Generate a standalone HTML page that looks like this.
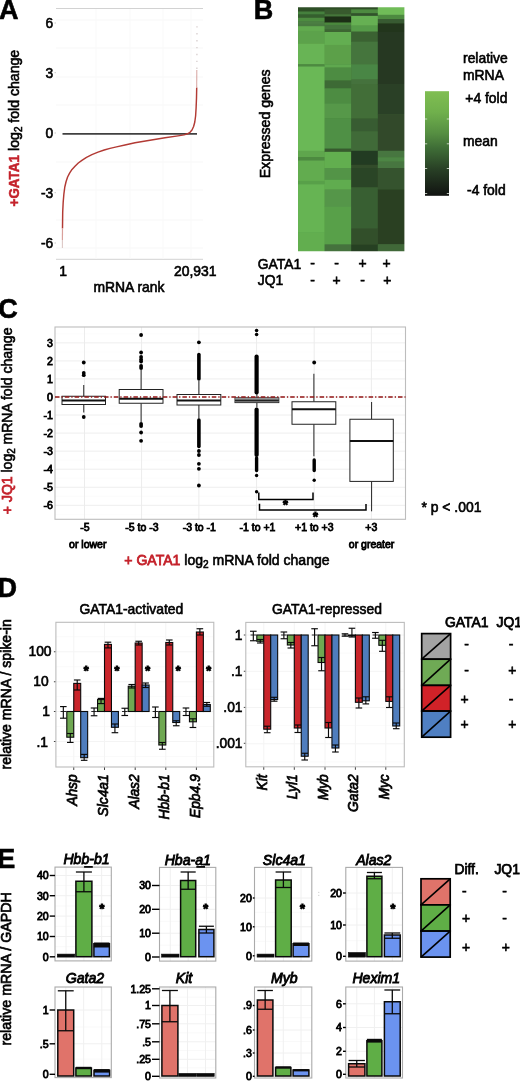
<!DOCTYPE html>
<html lang="en">
<head>
<meta charset="utf-8">
<title>Figure</title>
<style>
html,body{margin:0;padding:0;background:#fff;}
body{width:520px;height:1081px;overflow:hidden;}
svg{display:block;font-family:'Liberation Sans', Arial, Helvetica, sans-serif;filter:blur(0.45px);}
svg text{font-family:'Liberation Sans', Arial, Helvetica, sans-serif;}
</style>
</head>
<body>
<svg width="520" height="1081" viewBox="0 0 520 1081" role="img" aria-label="Figure panels A to E">
<rect x="0" y="0" width="520" height="1081" fill="#ffffff"/>
<g id="panelA">
<text x="-1.00" y="18.50" font-size="27" font-weight="bold" fill="#000" stroke="#000" stroke-width="0.6">A</text>
<line x1="56.00" y1="8.50" x2="203.00" y2="8.50" stroke="#d2d2d2" stroke-width="1"/>
<line x1="56.00" y1="259.30" x2="203.00" y2="259.30" stroke="#d2d2d2" stroke-width="1"/>
<line x1="56.00" y1="20.00" x2="203.00" y2="20.00" stroke="#f7f7f7" stroke-width="1"/>
<line x1="56.00" y1="48.00" x2="203.00" y2="48.00" stroke="#f7f7f7" stroke-width="1"/>
<line x1="56.00" y1="77.00" x2="203.00" y2="77.00" stroke="#f7f7f7" stroke-width="1"/>
<line x1="56.00" y1="105.00" x2="203.00" y2="105.00" stroke="#f7f7f7" stroke-width="1"/>
<line x1="56.00" y1="162.00" x2="203.00" y2="162.00" stroke="#f7f7f7" stroke-width="1"/>
<line x1="56.00" y1="190.00" x2="203.00" y2="190.00" stroke="#f7f7f7" stroke-width="1"/>
<line x1="56.00" y1="220.00" x2="203.00" y2="220.00" stroke="#f7f7f7" stroke-width="1"/>
<line x1="56.00" y1="248.00" x2="203.00" y2="248.00" stroke="#f7f7f7" stroke-width="1"/>
<line x1="96.00" y1="9.00" x2="96.00" y2="259.00" stroke="#f9f9f9" stroke-width="1"/>
<line x1="130.00" y1="9.00" x2="130.00" y2="259.00" stroke="#f9f9f9" stroke-width="1"/>
<line x1="163.00" y1="9.00" x2="163.00" y2="259.00" stroke="#f9f9f9" stroke-width="1"/>
<line x1="191.00" y1="9.00" x2="191.00" y2="259.00" stroke="#f9f9f9" stroke-width="1"/>
<text x="53.20" y="27.90" font-size="13.8" text-anchor="end" fill="#000" stroke="#000" stroke-width="0.6">6</text>
<line x1="54.50" y1="23.00" x2="56.00" y2="23.00" stroke="#bbb" stroke-width="0.8"/>
<text x="53.20" y="77.60" font-size="13.8" text-anchor="end" fill="#000" stroke="#000" stroke-width="0.6">3</text>
<line x1="54.50" y1="72.70" x2="56.00" y2="72.70" stroke="#bbb" stroke-width="0.8"/>
<text x="53.20" y="137.90" font-size="13.8" text-anchor="end" fill="#000" stroke="#000" stroke-width="0.6">0</text>
<line x1="54.50" y1="133.00" x2="56.00" y2="133.00" stroke="#bbb" stroke-width="0.8"/>
<text x="53.20" y="197.60" font-size="13.8" text-anchor="end" fill="#000" stroke="#000" stroke-width="0.6">-3</text>
<line x1="54.50" y1="192.70" x2="56.00" y2="192.70" stroke="#bbb" stroke-width="0.8"/>
<text x="53.20" y="247.90" font-size="13.8" text-anchor="end" fill="#000" stroke="#000" stroke-width="0.6">-6</text>
<line x1="54.50" y1="243.00" x2="56.00" y2="243.00" stroke="#bbb" stroke-width="0.8"/>
<line x1="62.50" y1="133.85" x2="197.00" y2="133.85" stroke="#404040" stroke-width="1.6"/>
<path d="M62.5,228.0 L62.7,212.0 L63.2,202.0 L63.9,193.8 L64.8,187.0 L66.1,181.5 L67.6,177.0 L69.6,173.1 L72.0,169.4 L75.0,166.2 L78.3,163.0 L81.9,160.3 L86.5,157.3 L91.9,154.6 L98.0,152.1 L104.2,150.0 L110.0,148.4 L116.5,146.9 L125.0,145.0 L135.0,142.8 L150.0,140.2 L165.0,137.8 L178.0,135.9 L184.0,134.9 L187.5,133.8 L190.0,132.3 L192.0,130.0 L193.6,126.5 L194.8,122.0 L195.6,116.0 L196.1,108.0 L196.5,98.0 L196.7,88.0" fill="none" stroke="#b23a34" stroke-width="1.45" stroke-linejoin="round" stroke-linecap="round"/>
<line x1="196.7" y1="88" x2="196.8" y2="70" stroke="#d9aaa6" stroke-width="1.1"/>
<line x1="196.9" y1="69" x2="197" y2="26" stroke="#cfc4c4" stroke-width="1.1" stroke-dasharray="1.4 5.5"/>
<line x1="62.5" y1="228" x2="62.4" y2="240" stroke="#d9a09b" stroke-width="1.2"/>
<line x1="62.4" y1="240" x2="62.4" y2="248" stroke="#ddc8c6" stroke-width="1.1"/>
<text x="63.00" y="276.20" font-size="13.9" text-anchor="middle" fill="#000" stroke="#000" stroke-width="0.6">1</text>
<text x="195.30" y="276.20" font-size="13.9" text-anchor="middle" fill="#000" stroke="#000" stroke-width="0.6">20,931</text>
<text x="129.00" y="292.20" font-size="13.9" text-anchor="middle" fill="#000" stroke="#000" stroke-width="0.6">mRNA rank</text>
<text x="0" y="0" font-size="15" font-weight="bold" transform="translate(19 206.4) rotate(-90) scale(0.893 1)" fill="#c4222b" stroke="#c4222b" stroke-width="0.5">+GATA1</text>
<text x="0" y="0" font-size="15" transform="translate(19 150.9) rotate(-90) scale(0.94 1)" fill="#000" stroke="#000" stroke-width="0.6">log<tspan font-size="10.5" dy="2.8">2</tspan><tspan dy="-2.8"> fold change</tspan></text>
</g>
<g id="panelB">
<text x="253.70" y="18.50" font-size="27" font-weight="bold" fill="#000" stroke="#000" stroke-width="0.6">B</text>
<defs><filter id="hb" x="-5%" y="-5%" width="110%" height="110%"><feGaussianBlur stdDeviation="0.4 0.6"/></filter><clipPath id="hc"><rect x="298" y="7.2" width="106.4" height="244"/></clipPath></defs>
<g clip-path="url(#hc)"><g filter="url(#hb)">
<rect x="290.00" y="0.00" width="125.00" height="262.00" fill="#3f6e35" stroke="none" stroke-width="1"/>
<rect x="298.00" y="-0.80" width="26.90" height="12.64" fill="#2f5028" stroke="none" stroke-width="1"/>
<rect x="298.00" y="11.54" width="26.90" height="3.10" fill="#45803e" stroke="none" stroke-width="1"/>
<rect x="298.00" y="14.34" width="26.90" height="3.75" fill="#365e2e" stroke="none" stroke-width="1"/>
<rect x="298.00" y="17.78" width="26.90" height="3.75" fill="#4d8c40" stroke="none" stroke-width="1"/>
<rect x="298.00" y="21.23" width="26.90" height="2.88" fill="#4c7f43" stroke="none" stroke-width="1"/>
<rect x="298.00" y="23.81" width="26.90" height="2.67" fill="#487a3f" stroke="none" stroke-width="1"/>
<rect x="298.00" y="26.18" width="26.90" height="5.04" fill="#62aa4f" stroke="none" stroke-width="1"/>
<rect x="298.00" y="30.92" width="26.90" height="13.22" fill="#5ca24b" stroke="none" stroke-width="1"/>
<rect x="298.00" y="43.84" width="26.90" height="20.76" fill="#68b455" stroke="none" stroke-width="1"/>
<rect x="298.00" y="64.31" width="26.90" height="2.45" fill="#4d8a40" stroke="none" stroke-width="1"/>
<rect x="298.00" y="66.46" width="26.90" height="84.61" fill="#6ab857" stroke="none" stroke-width="1"/>
<rect x="298.00" y="150.77" width="26.90" height="6.76" fill="#5ea64d" stroke="none" stroke-width="1"/>
<rect x="298.00" y="157.23" width="26.90" height="3.53" fill="#4d8a40" stroke="none" stroke-width="1"/>
<rect x="298.00" y="160.46" width="26.90" height="20.76" fill="#62ac4f" stroke="none" stroke-width="1"/>
<rect x="298.00" y="180.92" width="26.90" height="3.53" fill="#59a049" stroke="none" stroke-width="1"/>
<rect x="298.00" y="184.15" width="26.90" height="48.76" fill="#66b453" stroke="none" stroke-width="1"/>
<rect x="298.00" y="232.61" width="26.90" height="26.89" fill="#62ae50" stroke="none" stroke-width="1"/>
<rect x="324.60" y="-0.80" width="26.90" height="10.48" fill="#2e4d26" stroke="none" stroke-width="1"/>
<rect x="324.60" y="9.38" width="26.90" height="5.25" fill="#375a2f" stroke="none" stroke-width="1"/>
<rect x="324.60" y="14.34" width="26.90" height="2.45" fill="#44743a" stroke="none" stroke-width="1"/>
<rect x="324.60" y="16.49" width="26.90" height="6.33" fill="#1c2f17" stroke="none" stroke-width="1"/>
<rect x="324.60" y="22.52" width="26.90" height="2.67" fill="#4b883d" stroke="none" stroke-width="1"/>
<rect x="324.60" y="24.89" width="26.90" height="4.82" fill="#44743c" stroke="none" stroke-width="1"/>
<rect x="324.60" y="29.41" width="26.90" height="2.88" fill="#3c6632" stroke="none" stroke-width="1"/>
<rect x="324.60" y="32.00" width="26.90" height="13.22" fill="#63ae51" stroke="none" stroke-width="1"/>
<rect x="324.60" y="44.92" width="26.90" height="19.68" fill="#5ca04a" stroke="none" stroke-width="1"/>
<rect x="324.60" y="64.31" width="26.90" height="3.53" fill="#5ea84f" stroke="none" stroke-width="1"/>
<rect x="324.60" y="67.54" width="26.90" height="13.22" fill="#4d8c42" stroke="none" stroke-width="1"/>
<rect x="324.60" y="80.46" width="26.90" height="8.15" fill="#3d6a35" stroke="none" stroke-width="1"/>
<rect x="324.60" y="88.31" width="26.90" height="15.38" fill="#4d8c42" stroke="none" stroke-width="1"/>
<rect x="324.60" y="103.38" width="26.90" height="15.38" fill="#56984a" stroke="none" stroke-width="1"/>
<rect x="324.60" y="118.46" width="26.90" height="30.45" fill="#4f9044" stroke="none" stroke-width="1"/>
<rect x="324.60" y="148.61" width="26.90" height="3.53" fill="#375a2f" stroke="none" stroke-width="1"/>
<rect x="324.60" y="151.84" width="26.90" height="16.46" fill="#62ae4f" stroke="none" stroke-width="1"/>
<rect x="324.60" y="168.00" width="26.90" height="12.15" fill="#529446" stroke="none" stroke-width="1"/>
<rect x="324.60" y="179.85" width="26.90" height="9.99" fill="#60ac4f" stroke="none" stroke-width="1"/>
<rect x="324.60" y="189.54" width="26.90" height="17.53" fill="#549648" stroke="none" stroke-width="1"/>
<rect x="324.60" y="206.77" width="26.90" height="37.99" fill="#59a04a" stroke="none" stroke-width="1"/>
<rect x="324.60" y="244.46" width="26.90" height="15.04" fill="#44723c" stroke="none" stroke-width="1"/>
<rect x="351.20" y="-0.80" width="26.90" height="10.48" fill="#2e4d26" stroke="none" stroke-width="1"/>
<rect x="351.20" y="9.38" width="26.90" height="4.18" fill="#4d8a40" stroke="none" stroke-width="1"/>
<rect x="351.20" y="13.26" width="26.90" height="2.88" fill="#31522b" stroke="none" stroke-width="1"/>
<rect x="351.20" y="15.85" width="26.90" height="9.99" fill="#66b053" stroke="none" stroke-width="1"/>
<rect x="351.20" y="25.54" width="26.90" height="6.33" fill="#579c48" stroke="none" stroke-width="1"/>
<rect x="351.20" y="31.57" width="26.90" height="10.42" fill="#3a6233" stroke="none" stroke-width="1"/>
<rect x="351.20" y="41.69" width="26.90" height="22.91" fill="#44743e" stroke="none" stroke-width="1"/>
<rect x="351.20" y="64.31" width="26.90" height="15.38" fill="#4a8644" stroke="none" stroke-width="1"/>
<rect x="351.20" y="79.38" width="26.90" height="4.92" fill="#44723d" stroke="none" stroke-width="1"/>
<rect x="351.20" y="84.00" width="26.90" height="34.76" fill="#426e39" stroke="none" stroke-width="1"/>
<rect x="351.20" y="118.46" width="26.90" height="13.22" fill="#375c30" stroke="none" stroke-width="1"/>
<rect x="351.20" y="131.38" width="26.90" height="19.68" fill="#406a37" stroke="none" stroke-width="1"/>
<rect x="351.20" y="150.77" width="26.90" height="14.30" fill="#233a20" stroke="none" stroke-width="1"/>
<rect x="351.20" y="164.77" width="26.90" height="3.53" fill="#304c2a" stroke="none" stroke-width="1"/>
<rect x="351.20" y="168.00" width="26.90" height="19.68" fill="#2c4526" stroke="none" stroke-width="1"/>
<rect x="351.20" y="187.38" width="26.90" height="41.22" fill="#395e32" stroke="none" stroke-width="1"/>
<rect x="351.20" y="228.31" width="26.90" height="16.45" fill="#32502c" stroke="none" stroke-width="1"/>
<rect x="351.20" y="244.46" width="26.90" height="15.04" fill="#274022" stroke="none" stroke-width="1"/>
<rect x="377.80" y="-0.77" width="34.90" height="15.84" fill="#70bc59" stroke="none" stroke-width="1"/>
<rect x="377.80" y="14.77" width="34.90" height="4.61" fill="#4d8a40" stroke="none" stroke-width="1"/>
<rect x="377.80" y="19.08" width="34.90" height="4.61" fill="#375a31" stroke="none" stroke-width="1"/>
<rect x="377.80" y="23.38" width="34.90" height="8.92" fill="#22351d" stroke="none" stroke-width="1"/>
<rect x="377.80" y="32.00" width="34.90" height="52.30" fill="#263821" stroke="none" stroke-width="1"/>
<rect x="377.80" y="84.00" width="34.90" height="30.45" fill="#2c4025" stroke="none" stroke-width="1"/>
<rect x="377.80" y="114.15" width="34.90" height="36.91" fill="#314a29" stroke="none" stroke-width="1"/>
<rect x="377.80" y="150.77" width="34.90" height="6.76" fill="#477640" stroke="none" stroke-width="1"/>
<rect x="377.80" y="157.23" width="34.90" height="4.61" fill="#4d8644" stroke="none" stroke-width="1"/>
<rect x="377.80" y="161.54" width="34.90" height="6.76" fill="#477640" stroke="none" stroke-width="1"/>
<rect x="377.80" y="168.00" width="34.90" height="21.84" fill="#34522e" stroke="none" stroke-width="1"/>
<rect x="377.80" y="189.54" width="34.90" height="55.01" fill="#2a4024" stroke="none" stroke-width="1"/>
<rect x="377.80" y="244.24" width="34.90" height="15.26" fill="#3f6837" stroke="none" stroke-width="1"/>
</g></g>
<text x="0" y="0" font-size="15" fill="#000" transform="translate(269.60 178.30) rotate(-90) scale(0.94 1)" stroke="#000" stroke-width="0.6">Expressed genes</text>
<text x="257.80" y="268.60" font-size="13.9" fill="#000" stroke="#000" stroke-width="0.6">GATA1</text>
<text x="257.80" y="284.80" font-size="13.9" fill="#000" stroke="#000" stroke-width="0.6">JQ1</text>
<text x="312.50" y="268.20" font-size="13.9" text-anchor="middle" fill="#000" stroke="#000" stroke-width="0.6">-</text>
<text x="312.50" y="284.60" font-size="13.9" text-anchor="middle" fill="#000" stroke="#000" stroke-width="0.6">-</text>
<text x="336.50" y="268.20" font-size="13.9" text-anchor="middle" fill="#000" stroke="#000" stroke-width="0.6">-</text>
<text x="336.50" y="284.60" font-size="13.9" text-anchor="middle" fill="#000" stroke="#000" stroke-width="0.6">+</text>
<text x="362.60" y="268.20" font-size="13.9" text-anchor="middle" fill="#000" stroke="#000" stroke-width="0.6">+</text>
<text x="362.60" y="284.60" font-size="13.9" text-anchor="middle" fill="#000" stroke="#000" stroke-width="0.6">-</text>
<text x="386.60" y="268.20" font-size="13.9" text-anchor="middle" fill="#000" stroke="#000" stroke-width="0.6">+</text>
<text x="387.40" y="284.60" font-size="13.9" text-anchor="middle" fill="#000" stroke="#000" stroke-width="0.6">+</text>
<defs><linearGradient id="cb" x1="0" y1="0" x2="0" y2="1"><stop offset="0" stop-color="#80be52"/><stop offset="0.2" stop-color="#70b04c"/><stop offset="0.4" stop-color="#568f42"/><stop offset="0.55" stop-color="#3e6c36"/><stop offset="0.75" stop-color="#283f25"/><stop offset="1" stop-color="#111311"/></linearGradient></defs>
<rect x="425.00" y="91.20" width="24.00" height="104.60" fill="url(#cb)" stroke="none" stroke-width="1"/>
<line x1="425.00" y1="119.00" x2="427.20" y2="119.00" stroke="#dfe8da" stroke-width="0.8"/>
<line x1="446.80" y1="119.00" x2="449.00" y2="119.00" stroke="#dfe8da" stroke-width="0.8"/>
<line x1="425.00" y1="143.80" x2="427.20" y2="143.80" stroke="#dfe8da" stroke-width="0.8"/>
<line x1="446.80" y1="143.80" x2="449.00" y2="143.80" stroke="#dfe8da" stroke-width="0.8"/>
<line x1="425.00" y1="168.50" x2="427.20" y2="168.50" stroke="#dfe8da" stroke-width="0.8"/>
<line x1="446.80" y1="168.50" x2="449.00" y2="168.50" stroke="#dfe8da" stroke-width="0.8"/>
<line x1="425.00" y1="193.50" x2="427.20" y2="193.50" stroke="#dfe8da" stroke-width="0.8"/>
<line x1="446.80" y1="193.50" x2="449.00" y2="193.50" stroke="#dfe8da" stroke-width="0.8"/>
<text x="463.00" y="63.20" font-size="13.9" fill="#000" stroke="#000" stroke-width="0.6">relative</text>
<text x="463.00" y="79.60" font-size="13.9" fill="#000" stroke="#000" stroke-width="0.6">mRNA</text>
<text x="465.30" y="102.60" font-size="13.9" fill="#000" stroke="#000" stroke-width="0.6">+4 fold</text>
<text x="463.00" y="146.30" font-size="13.9" fill="#000" stroke="#000" stroke-width="0.6">mean</text>
<text x="467.00" y="194.80" font-size="13.9" fill="#000" stroke="#000" stroke-width="0.6">-4 fold</text>
</g>
<g id="panelC">
<text x="-1.70" y="318.20" font-size="27" font-weight="bold" fill="#000" stroke="#000" stroke-width="0.6">C</text>
<line x1="55.00" y1="505.30" x2="405.50" y2="505.30" stroke="#eeeeee" stroke-width="1"/>
<line x1="55.00" y1="487.25" x2="405.50" y2="487.25" stroke="#eeeeee" stroke-width="1"/>
<line x1="55.00" y1="469.20" x2="405.50" y2="469.20" stroke="#eeeeee" stroke-width="1"/>
<line x1="55.00" y1="451.15" x2="405.50" y2="451.15" stroke="#eeeeee" stroke-width="1"/>
<line x1="55.00" y1="433.10" x2="405.50" y2="433.10" stroke="#eeeeee" stroke-width="1"/>
<line x1="55.00" y1="415.05" x2="405.50" y2="415.05" stroke="#eeeeee" stroke-width="1"/>
<line x1="55.00" y1="397.00" x2="405.50" y2="397.00" stroke="#eeeeee" stroke-width="1"/>
<line x1="55.00" y1="378.95" x2="405.50" y2="378.95" stroke="#eeeeee" stroke-width="1"/>
<line x1="55.00" y1="360.90" x2="405.50" y2="360.90" stroke="#eeeeee" stroke-width="1"/>
<line x1="55.00" y1="342.85" x2="405.50" y2="342.85" stroke="#eeeeee" stroke-width="1"/>
<line x1="55.00" y1="514.33" x2="405.50" y2="514.33" stroke="#fbfbfb" stroke-width="0.8"/>
<line x1="55.00" y1="496.27" x2="405.50" y2="496.27" stroke="#fbfbfb" stroke-width="0.8"/>
<line x1="55.00" y1="478.23" x2="405.50" y2="478.23" stroke="#fbfbfb" stroke-width="0.8"/>
<line x1="55.00" y1="460.18" x2="405.50" y2="460.18" stroke="#fbfbfb" stroke-width="0.8"/>
<line x1="55.00" y1="442.12" x2="405.50" y2="442.12" stroke="#fbfbfb" stroke-width="0.8"/>
<line x1="55.00" y1="424.07" x2="405.50" y2="424.07" stroke="#fbfbfb" stroke-width="0.8"/>
<line x1="55.00" y1="406.02" x2="405.50" y2="406.02" stroke="#fbfbfb" stroke-width="0.8"/>
<line x1="55.00" y1="387.98" x2="405.50" y2="387.98" stroke="#fbfbfb" stroke-width="0.8"/>
<line x1="55.00" y1="369.93" x2="405.50" y2="369.93" stroke="#fbfbfb" stroke-width="0.8"/>
<line x1="55.00" y1="351.88" x2="405.50" y2="351.88" stroke="#fbfbfb" stroke-width="0.8"/>
<line x1="55.00" y1="333.82" x2="405.50" y2="333.82" stroke="#fbfbfb" stroke-width="0.8"/>
<line x1="84.50" y1="327.00" x2="84.50" y2="519.30" stroke="#ececec" stroke-width="1"/>
<line x1="141.60" y1="327.00" x2="141.60" y2="519.30" stroke="#ececec" stroke-width="1"/>
<line x1="198.90" y1="327.00" x2="198.90" y2="519.30" stroke="#ececec" stroke-width="1"/>
<line x1="256.60" y1="327.00" x2="256.60" y2="519.30" stroke="#ececec" stroke-width="1"/>
<line x1="314.20" y1="327.00" x2="314.20" y2="519.30" stroke="#ececec" stroke-width="1"/>
<line x1="371.40" y1="327.00" x2="371.40" y2="519.30" stroke="#ececec" stroke-width="1"/>
<rect x="55.00" y="327.00" width="350.50" height="192.30" fill="none" stroke="#bdbdbd" stroke-width="1.1"/>
<text x="53.00" y="509.10" font-size="10.6" text-anchor="end" fill="#000" stroke="#000" stroke-width="0.8">-6</text>
<text x="53.00" y="491.05" font-size="10.6" text-anchor="end" fill="#000" stroke="#000" stroke-width="0.8">-5</text>
<text x="53.00" y="473.00" font-size="10.6" text-anchor="end" fill="#000" stroke="#000" stroke-width="0.8">-4</text>
<text x="53.00" y="454.95" font-size="10.6" text-anchor="end" fill="#000" stroke="#000" stroke-width="0.8">-3</text>
<text x="53.00" y="436.90" font-size="10.6" text-anchor="end" fill="#000" stroke="#000" stroke-width="0.8">-2</text>
<text x="53.00" y="418.85" font-size="10.6" text-anchor="end" fill="#000" stroke="#000" stroke-width="0.8">-1</text>
<text x="53.00" y="400.80" font-size="10.6" text-anchor="end" fill="#000" stroke="#000" stroke-width="0.8">0</text>
<text x="53.00" y="382.75" font-size="10.6" text-anchor="end" fill="#000" stroke="#000" stroke-width="0.8">1</text>
<text x="53.00" y="364.70" font-size="10.6" text-anchor="end" fill="#000" stroke="#000" stroke-width="0.8">2</text>
<text x="53.00" y="346.65" font-size="10.6" text-anchor="end" fill="#000" stroke="#000" stroke-width="0.8">3</text>
<circle cx="83.75" cy="362.50" r="1.9" fill="#000"/>
<circle cx="83.75" cy="373.00" r="1.9" fill="#000"/>
<circle cx="83.75" cy="375.20" r="1.9" fill="#000"/>
<circle cx="83.75" cy="417.00" r="1.9" fill="#000"/>
<circle cx="141.10" cy="335.00" r="1.9" fill="#000"/>
<circle cx="141.10" cy="352.50" r="1.9" fill="#000"/>
<circle cx="141.10" cy="357.00" r="1.9" fill="#000"/>
<circle cx="141.10" cy="359.50" r="1.9" fill="#000"/>
<circle cx="141.10" cy="361.50" r="1.9" fill="#000"/>
<circle cx="141.10" cy="366.00" r="1.9" fill="#000"/>
<circle cx="141.10" cy="368.00" r="1.9" fill="#000"/>
<circle cx="141.10" cy="424.00" r="1.9" fill="#000"/>
<circle cx="141.10" cy="426.00" r="1.9" fill="#000"/>
<circle cx="141.10" cy="432.50" r="1.9" fill="#000"/>
<circle cx="141.10" cy="440.80" r="1.9" fill="#000"/>
<line x1="198.9" y1="354.5" x2="198.9" y2="379" stroke="#000" stroke-width="3.6" stroke-linecap="round"/>
<circle cx="198.90" cy="342.30" r="1.9" fill="#000"/>
<line x1="198.9" y1="420" x2="198.9" y2="446.5" stroke="#000" stroke-width="3.6" stroke-linecap="round"/>
<circle cx="198.90" cy="451.00" r="1.9" fill="#000"/>
<circle cx="198.90" cy="455.00" r="1.9" fill="#000"/>
<circle cx="198.90" cy="463.80" r="1.9" fill="#000"/>
<circle cx="198.90" cy="468.80" r="1.9" fill="#000"/>
<circle cx="198.90" cy="485.50" r="1.9" fill="#000"/>
<circle cx="256.60" cy="330.50" r="1.8" fill="#000"/>
<circle cx="256.60" cy="334.50" r="1.8" fill="#000"/>
<line x1="256.6" y1="356.5" x2="256.6" y2="392.5" stroke="#000" stroke-width="4.2" stroke-linecap="round"/>
<line x1="256.6" y1="409.5" x2="256.6" y2="455" stroke="#000" stroke-width="4.2" stroke-linecap="round"/>
<line x1="256.6" y1="458" x2="256.6" y2="470.5" stroke="#000" stroke-width="3.4" stroke-linecap="round"/>
<circle cx="256.60" cy="475.50" r="1.7" fill="#000"/>
<circle cx="256.60" cy="491.80" r="1.7" fill="#000"/>
<circle cx="314.20" cy="362.50" r="1.9" fill="#000"/>
<line x1="314.2" y1="460" x2="314.2" y2="470.5" stroke="#000" stroke-width="3.4" stroke-linecap="round"/>
<circle cx="314.20" cy="480.30" r="1.7" fill="#000"/>
<line x1="83.75" y1="385.00" x2="83.75" y2="396.25" stroke="#222" stroke-width="1"/>
<line x1="83.75" y1="404.50" x2="83.75" y2="412.50" stroke="#222" stroke-width="1"/>
<rect x="62.00" y="396.25" width="43.50" height="8.25" fill="#fff" stroke="#222" stroke-width="1"/>
<line x1="62.00" y1="400.50" x2="105.50" y2="400.50" stroke="#111" stroke-width="1.8"/>
<line x1="141.10" y1="370.00" x2="141.10" y2="389.50" stroke="#222" stroke-width="1"/>
<line x1="141.10" y1="403.25" x2="141.10" y2="422.50" stroke="#222" stroke-width="1"/>
<rect x="119.20" y="389.50" width="43.80" height="13.75" fill="#fff" stroke="#222" stroke-width="1"/>
<line x1="119.20" y1="398.75" x2="163.00" y2="398.75" stroke="#111" stroke-width="1.8"/>
<line x1="198.90" y1="381.00" x2="198.90" y2="394.50" stroke="#222" stroke-width="1"/>
<line x1="198.90" y1="405.00" x2="198.90" y2="418.75" stroke="#222" stroke-width="1"/>
<rect x="177.00" y="394.50" width="43.80" height="10.50" fill="#fff" stroke="#222" stroke-width="1"/>
<line x1="177.00" y1="400.50" x2="220.80" y2="400.50" stroke="#111" stroke-width="1.8"/>
<line x1="256.90" y1="394.00" x2="256.90" y2="397.80" stroke="#222" stroke-width="1"/>
<line x1="256.90" y1="402.60" x2="256.90" y2="407.50" stroke="#222" stroke-width="1"/>
<rect x="235.00" y="397.80" width="43.80" height="4.80" fill="#fff" stroke="#222" stroke-width="1"/>
<line x1="235.00" y1="400.40" x2="278.80" y2="400.40" stroke="#111" stroke-width="1.8"/>
<line x1="313.90" y1="373.75" x2="313.90" y2="401.75" stroke="#222" stroke-width="1"/>
<line x1="313.90" y1="424.25" x2="313.90" y2="456.25" stroke="#222" stroke-width="1"/>
<rect x="292.00" y="401.75" width="43.80" height="22.50" fill="#fff" stroke="#222" stroke-width="1"/>
<line x1="292.00" y1="409.25" x2="335.80" y2="409.25" stroke="#111" stroke-width="1.8"/>
<line x1="371.60" y1="402.00" x2="371.60" y2="419.25" stroke="#222" stroke-width="1"/>
<line x1="371.60" y1="481.40" x2="371.60" y2="511.30" stroke="#222" stroke-width="1"/>
<rect x="349.90" y="419.25" width="43.40" height="62.15" fill="#fff" stroke="#222" stroke-width="1"/>
<line x1="349.90" y1="441.00" x2="393.30" y2="441.00" stroke="#111" stroke-width="1.8"/>
<rect x="235.20" y="398.20" width="43.40" height="4.00" fill="#8a8a8a" stroke="none" stroke-width="1"/>
<line x1="235.00" y1="400.50" x2="278.80" y2="400.50" stroke="#222" stroke-width="1.6"/>
<line x1="55.0" y1="396.9" x2="405.5" y2="396.9" stroke="#931515" stroke-width="1.5" stroke-dasharray="4.5 2 1.3 2"/>
<path d="M258.8,492.5 V499.5 H313 V492.5" fill="none" stroke="#000" stroke-width="1.5"/>
<path d="M259.5,503.8 V510 H366 V504" fill="none" stroke="#000" stroke-width="1.5"/>
<text x="285.50" y="509.30" font-size="12.5" text-anchor="middle" font-weight="bold" fill="#000" stroke="#000" stroke-width="1.0">*</text>
<text x="315.50" y="520.70" font-size="12.5" text-anchor="middle" font-weight="bold" fill="#000" stroke="#000" stroke-width="1.0">*</text>
<text x="85.00" y="530.70" font-size="10.5" text-anchor="middle" fill="#000" stroke="#000" stroke-width="0.8">-5</text>
<text x="142.00" y="530.70" font-size="10.5" text-anchor="middle" fill="#000" stroke="#000" stroke-width="0.8">-5 to -3</text>
<text x="199.30" y="530.70" font-size="10.5" text-anchor="middle" fill="#000" stroke="#000" stroke-width="0.8">-3 to -1</text>
<text x="257.50" y="530.70" font-size="10.5" text-anchor="middle" fill="#000" stroke="#000" stroke-width="0.8">-1 to +1</text>
<text x="314.30" y="530.70" font-size="10.5" text-anchor="middle" fill="#000" stroke="#000" stroke-width="0.8">+1 to +3</text>
<text x="371.30" y="530.70" font-size="10.5" text-anchor="middle" fill="#000" stroke="#000" stroke-width="0.8">+3</text>
<text x="87.80" y="548.00" font-size="10.5" text-anchor="middle" fill="#000" stroke="#000" stroke-width="0.8">or lower</text>
<text x="371.60" y="548.00" font-size="10.5" text-anchor="middle" fill="#000" stroke="#000" stroke-width="0.8">or greater</text>
<text x="124.3" y="564.8" font-size="14.05" fill="#000" stroke="#000" stroke-width="0.6"><tspan fill="#c4222b" stroke="#c4222b" stroke-width="0.8">+ GATA1</tspan> log<tspan font-size="10" dy="2.8">2</tspan><tspan dy="-2.8"> mRNA fold change</tspan></text>
<text x="0" y="0" font-size="15" transform="translate(11.8 514.2) rotate(-90) scale(0.935 1)" fill="#000" stroke="#000" stroke-width="0.6"><tspan fill="#c4222b" stroke="#c4222b" stroke-width="0.8">+ JQ1</tspan> log<tspan font-size="10.5" dy="2.8">2</tspan><tspan dy="-2.8"> mRNA fold change</tspan></text>
<text x="421.50" y="511.60" font-size="13.9" fill="#000" stroke="#000" stroke-width="0.6">* p &lt; .001</text>
</g>
<g id="panelD">
<text x="-2.60" y="597.20" font-size="27" font-weight="bold" fill="#000" stroke="#000" stroke-width="0.6">D</text>
<text x="0" y="0" font-size="15" fill="#000" transform="translate(10.70 769.50) rotate(-90) scale(0.94 1)" stroke="#000" stroke-width="0.7">relative mRNA / spike-in</text>
<line x1="55.90" y1="651.75" x2="213.80" y2="651.75" stroke="#f4f4f4" stroke-width="1"/>
<line x1="55.90" y1="681.75" x2="213.80" y2="681.75" stroke="#f4f4f4" stroke-width="1"/>
<line x1="55.90" y1="711.50" x2="213.80" y2="711.50" stroke="#f4f4f4" stroke-width="1"/>
<line x1="55.90" y1="741.50" x2="213.80" y2="741.50" stroke="#f4f4f4" stroke-width="1"/>
<line x1="55.90" y1="636.75" x2="213.80" y2="636.75" stroke="#f9f9f9" stroke-width="0.8"/>
<line x1="55.90" y1="666.75" x2="213.80" y2="666.75" stroke="#f9f9f9" stroke-width="0.8"/>
<line x1="55.90" y1="696.60" x2="213.80" y2="696.60" stroke="#f9f9f9" stroke-width="0.8"/>
<line x1="55.90" y1="726.50" x2="213.80" y2="726.50" stroke="#f9f9f9" stroke-width="0.8"/>
<line x1="55.90" y1="756.50" x2="213.80" y2="756.50" stroke="#f9f9f9" stroke-width="0.8"/>
<line x1="73.75" y1="622.30" x2="73.75" y2="767.00" stroke="#f4f4f4" stroke-width="1"/>
<line x1="73.75" y1="767.00" x2="73.75" y2="770.00" stroke="#444" stroke-width="1"/>
<line x1="104.50" y1="622.30" x2="104.50" y2="767.00" stroke="#f4f4f4" stroke-width="1"/>
<line x1="104.50" y1="767.00" x2="104.50" y2="770.00" stroke="#444" stroke-width="1"/>
<line x1="135.20" y1="622.30" x2="135.20" y2="767.00" stroke="#f4f4f4" stroke-width="1"/>
<line x1="135.20" y1="767.00" x2="135.20" y2="770.00" stroke="#444" stroke-width="1"/>
<line x1="165.80" y1="622.30" x2="165.80" y2="767.00" stroke="#f4f4f4" stroke-width="1"/>
<line x1="165.80" y1="767.00" x2="165.80" y2="770.00" stroke="#444" stroke-width="1"/>
<line x1="196.40" y1="622.30" x2="196.40" y2="767.00" stroke="#f4f4f4" stroke-width="1"/>
<line x1="196.40" y1="767.00" x2="196.40" y2="770.00" stroke="#444" stroke-width="1"/>
<text x="79.50" y="614.30" font-size="13.9" fill="#000" stroke="#000" stroke-width="0.6">GATA1-activated</text>
<text x="51.50" y="656.10" font-size="13.8" text-anchor="end" fill="#000" stroke="#000" stroke-width="0.6">100</text>
<line x1="53.90" y1="651.75" x2="55.90" y2="651.75" stroke="#444" stroke-width="1"/>
<text x="48.60" y="686.20" font-size="13.8" text-anchor="end" fill="#000" stroke="#000" stroke-width="0.6">10</text>
<line x1="53.90" y1="681.75" x2="55.90" y2="681.75" stroke="#444" stroke-width="1"/>
<text x="50.00" y="716.10" font-size="13.8" text-anchor="end" fill="#000" stroke="#000" stroke-width="0.6">1</text>
<line x1="53.90" y1="711.50" x2="55.90" y2="711.50" stroke="#444" stroke-width="1"/>
<text x="48.00" y="747.10" font-size="13.8" text-anchor="end" fill="#000" stroke="#000" stroke-width="0.6">.1</text>
<line x1="53.90" y1="741.50" x2="55.90" y2="741.50" stroke="#444" stroke-width="1"/>
<rect x="66.80" y="711.50" width="6.95" height="25.70" fill="#6fa852" stroke="#0a0a0a" stroke-width="1.1"/>
<rect x="73.75" y="683.40" width="6.95" height="28.10" fill="#c9252b" stroke="#0a0a0a" stroke-width="1.1"/>
<rect x="80.70" y="711.50" width="6.95" height="46.20" fill="#4f7dbd" stroke="#0a0a0a" stroke-width="1.1"/>
<line x1="63.33" y1="706.60" x2="63.33" y2="718.20" stroke="#0a0a0a" stroke-width="1.15"/>
<line x1="60.03" y1="706.60" x2="66.62" y2="706.60" stroke="#0a0a0a" stroke-width="1.15"/>
<line x1="60.03" y1="718.20" x2="66.62" y2="718.20" stroke="#0a0a0a" stroke-width="1.15"/>
<line x1="60.55" y1="711.50" x2="66.11" y2="711.50" stroke="#111" stroke-width="0.9"/>
<line x1="70.28" y1="733.50" x2="70.28" y2="742.40" stroke="#0a0a0a" stroke-width="1.15"/>
<line x1="66.98" y1="733.50" x2="73.58" y2="733.50" stroke="#0a0a0a" stroke-width="1.15"/>
<line x1="66.98" y1="742.40" x2="73.58" y2="742.40" stroke="#0a0a0a" stroke-width="1.15"/>
<line x1="77.22" y1="680.00" x2="77.22" y2="690.00" stroke="#0a0a0a" stroke-width="1.15"/>
<line x1="73.92" y1="680.00" x2="80.52" y2="680.00" stroke="#0a0a0a" stroke-width="1.15"/>
<line x1="73.92" y1="690.00" x2="80.52" y2="690.00" stroke="#0a0a0a" stroke-width="1.15"/>
<line x1="84.17" y1="754.40" x2="84.17" y2="760.30" stroke="#0a0a0a" stroke-width="1.15"/>
<line x1="80.88" y1="754.40" x2="87.47" y2="754.40" stroke="#0a0a0a" stroke-width="1.15"/>
<line x1="80.88" y1="760.30" x2="87.47" y2="760.30" stroke="#0a0a0a" stroke-width="1.15"/>
<text x="86.15" y="674.60" font-size="12.5" text-anchor="middle" font-weight="bold" fill="#000" stroke="#000" stroke-width="1.0">*</text>
<rect x="97.55" y="699.60" width="6.95" height="11.90" fill="#6fa852" stroke="#0a0a0a" stroke-width="1.1"/>
<rect x="104.50" y="644.40" width="6.95" height="67.10" fill="#c9252b" stroke="#0a0a0a" stroke-width="1.1"/>
<rect x="111.45" y="711.50" width="6.95" height="15.80" fill="#4f7dbd" stroke="#0a0a0a" stroke-width="1.1"/>
<line x1="94.07" y1="708.00" x2="94.07" y2="715.75" stroke="#0a0a0a" stroke-width="1.15"/>
<line x1="90.77" y1="708.00" x2="97.37" y2="708.00" stroke="#0a0a0a" stroke-width="1.15"/>
<line x1="90.77" y1="715.75" x2="97.37" y2="715.75" stroke="#0a0a0a" stroke-width="1.15"/>
<line x1="91.29" y1="711.50" x2="96.85" y2="711.50" stroke="#111" stroke-width="0.9"/>
<line x1="101.02" y1="698.40" x2="101.02" y2="703.60" stroke="#0a0a0a" stroke-width="1.15"/>
<line x1="97.72" y1="698.40" x2="104.32" y2="698.40" stroke="#0a0a0a" stroke-width="1.15"/>
<line x1="97.72" y1="703.60" x2="104.32" y2="703.60" stroke="#0a0a0a" stroke-width="1.15"/>
<line x1="107.97" y1="642.20" x2="107.97" y2="647.90" stroke="#0a0a0a" stroke-width="1.15"/>
<line x1="104.67" y1="642.20" x2="111.27" y2="642.20" stroke="#0a0a0a" stroke-width="1.15"/>
<line x1="104.67" y1="647.90" x2="111.27" y2="647.90" stroke="#0a0a0a" stroke-width="1.15"/>
<line x1="114.92" y1="724.00" x2="114.92" y2="732.70" stroke="#0a0a0a" stroke-width="1.15"/>
<line x1="111.62" y1="724.00" x2="118.22" y2="724.00" stroke="#0a0a0a" stroke-width="1.15"/>
<line x1="111.62" y1="732.70" x2="118.22" y2="732.70" stroke="#0a0a0a" stroke-width="1.15"/>
<text x="116.90" y="674.60" font-size="12.5" text-anchor="middle" font-weight="bold" fill="#000" stroke="#000" stroke-width="1.0">*</text>
<rect x="128.25" y="686.25" width="6.95" height="25.25" fill="#6fa852" stroke="#0a0a0a" stroke-width="1.1"/>
<rect x="135.20" y="643.00" width="6.95" height="68.50" fill="#c9252b" stroke="#0a0a0a" stroke-width="1.1"/>
<rect x="142.15" y="685.00" width="6.95" height="26.50" fill="#4f7dbd" stroke="#0a0a0a" stroke-width="1.1"/>
<line x1="124.77" y1="708.25" x2="124.77" y2="715.50" stroke="#0a0a0a" stroke-width="1.15"/>
<line x1="121.47" y1="708.25" x2="128.07" y2="708.25" stroke="#0a0a0a" stroke-width="1.15"/>
<line x1="121.47" y1="715.50" x2="128.07" y2="715.50" stroke="#0a0a0a" stroke-width="1.15"/>
<line x1="121.99" y1="711.50" x2="127.55" y2="711.50" stroke="#111" stroke-width="0.9"/>
<line x1="131.72" y1="684.50" x2="131.72" y2="688.00" stroke="#0a0a0a" stroke-width="1.15"/>
<line x1="128.42" y1="684.50" x2="135.03" y2="684.50" stroke="#0a0a0a" stroke-width="1.15"/>
<line x1="128.42" y1="688.00" x2="135.03" y2="688.00" stroke="#0a0a0a" stroke-width="1.15"/>
<line x1="138.67" y1="641.25" x2="138.67" y2="645.00" stroke="#0a0a0a" stroke-width="1.15"/>
<line x1="135.37" y1="641.25" x2="141.97" y2="641.25" stroke="#0a0a0a" stroke-width="1.15"/>
<line x1="135.37" y1="645.00" x2="141.97" y2="645.00" stroke="#0a0a0a" stroke-width="1.15"/>
<line x1="145.62" y1="683.00" x2="145.62" y2="687.50" stroke="#0a0a0a" stroke-width="1.15"/>
<line x1="142.32" y1="683.00" x2="148.92" y2="683.00" stroke="#0a0a0a" stroke-width="1.15"/>
<line x1="142.32" y1="687.50" x2="148.92" y2="687.50" stroke="#0a0a0a" stroke-width="1.15"/>
<text x="147.60" y="674.60" font-size="12.5" text-anchor="middle" font-weight="bold" fill="#000" stroke="#000" stroke-width="1.0">*</text>
<rect x="158.85" y="711.50" width="6.95" height="33.50" fill="#6fa852" stroke="#0a0a0a" stroke-width="1.1"/>
<rect x="165.80" y="642.50" width="6.95" height="69.00" fill="#c9252b" stroke="#0a0a0a" stroke-width="1.1"/>
<rect x="172.75" y="711.50" width="6.95" height="11.00" fill="#4f7dbd" stroke="#0a0a0a" stroke-width="1.1"/>
<line x1="155.38" y1="707.00" x2="155.38" y2="717.50" stroke="#0a0a0a" stroke-width="1.15"/>
<line x1="152.07" y1="707.00" x2="158.68" y2="707.00" stroke="#0a0a0a" stroke-width="1.15"/>
<line x1="152.07" y1="717.50" x2="158.68" y2="717.50" stroke="#0a0a0a" stroke-width="1.15"/>
<line x1="152.59" y1="711.50" x2="158.16" y2="711.50" stroke="#111" stroke-width="0.9"/>
<line x1="162.33" y1="742.50" x2="162.33" y2="749.25" stroke="#0a0a0a" stroke-width="1.15"/>
<line x1="159.03" y1="742.50" x2="165.63" y2="742.50" stroke="#0a0a0a" stroke-width="1.15"/>
<line x1="159.03" y1="749.25" x2="165.63" y2="749.25" stroke="#0a0a0a" stroke-width="1.15"/>
<line x1="169.28" y1="640.00" x2="169.28" y2="645.00" stroke="#0a0a0a" stroke-width="1.15"/>
<line x1="165.97" y1="640.00" x2="172.58" y2="640.00" stroke="#0a0a0a" stroke-width="1.15"/>
<line x1="165.97" y1="645.00" x2="172.58" y2="645.00" stroke="#0a0a0a" stroke-width="1.15"/>
<line x1="176.22" y1="720.75" x2="176.22" y2="725.75" stroke="#0a0a0a" stroke-width="1.15"/>
<line x1="172.92" y1="720.75" x2="179.53" y2="720.75" stroke="#0a0a0a" stroke-width="1.15"/>
<line x1="172.92" y1="725.75" x2="179.53" y2="725.75" stroke="#0a0a0a" stroke-width="1.15"/>
<text x="178.20" y="674.60" font-size="12.5" text-anchor="middle" font-weight="bold" fill="#000" stroke="#000" stroke-width="1.0">*</text>
<rect x="189.45" y="711.50" width="6.95" height="10.30" fill="#6fa852" stroke="#0a0a0a" stroke-width="1.1"/>
<rect x="196.40" y="632.00" width="6.95" height="79.50" fill="#c9252b" stroke="#0a0a0a" stroke-width="1.1"/>
<rect x="203.35" y="704.50" width="6.95" height="7.00" fill="#4f7dbd" stroke="#0a0a0a" stroke-width="1.1"/>
<line x1="185.97" y1="708.00" x2="185.97" y2="715.50" stroke="#0a0a0a" stroke-width="1.15"/>
<line x1="182.67" y1="708.00" x2="189.28" y2="708.00" stroke="#0a0a0a" stroke-width="1.15"/>
<line x1="182.67" y1="715.50" x2="189.28" y2="715.50" stroke="#0a0a0a" stroke-width="1.15"/>
<line x1="183.19" y1="711.50" x2="188.75" y2="711.50" stroke="#111" stroke-width="0.9"/>
<line x1="192.93" y1="718.80" x2="192.93" y2="727.50" stroke="#0a0a0a" stroke-width="1.15"/>
<line x1="189.62" y1="718.80" x2="196.23" y2="718.80" stroke="#0a0a0a" stroke-width="1.15"/>
<line x1="189.62" y1="727.50" x2="196.23" y2="727.50" stroke="#0a0a0a" stroke-width="1.15"/>
<line x1="199.88" y1="628.75" x2="199.88" y2="635.00" stroke="#0a0a0a" stroke-width="1.15"/>
<line x1="196.57" y1="628.75" x2="203.18" y2="628.75" stroke="#0a0a0a" stroke-width="1.15"/>
<line x1="196.57" y1="635.00" x2="203.18" y2="635.00" stroke="#0a0a0a" stroke-width="1.15"/>
<line x1="206.82" y1="702.50" x2="206.82" y2="706.25" stroke="#0a0a0a" stroke-width="1.15"/>
<line x1="203.52" y1="702.50" x2="210.12" y2="702.50" stroke="#0a0a0a" stroke-width="1.15"/>
<line x1="203.52" y1="706.25" x2="210.12" y2="706.25" stroke="#0a0a0a" stroke-width="1.15"/>
<text x="208.80" y="674.60" font-size="12.5" text-anchor="middle" font-weight="bold" fill="#000" stroke="#000" stroke-width="1.0">*</text>
<rect x="55.90" y="622.30" width="157.90" height="144.70" fill="none" stroke="#bcbcbc" stroke-width="1.1"/>
<text x="0" y="0" font-size="15" text-anchor="end" font-style="italic" fill="#000" transform="translate(77.35 774.30) rotate(-90) scale(0.92 1)" stroke="#000" stroke-width="0.75">Ahsp</text>
<text x="0" y="0" font-size="15" text-anchor="end" font-style="italic" fill="#000" transform="translate(108.10 774.30) rotate(-90) scale(0.92 1)" stroke="#000" stroke-width="0.75">Slc4a1</text>
<text x="0" y="0" font-size="15" text-anchor="end" font-style="italic" fill="#000" transform="translate(138.80 774.30) rotate(-90) scale(0.92 1)" stroke="#000" stroke-width="0.75">Alas2</text>
<text x="0" y="0" font-size="15" text-anchor="end" font-style="italic" fill="#000" transform="translate(169.40 774.30) rotate(-90) scale(0.92 1)" stroke="#000" stroke-width="0.75">Hbb-b1</text>
<text x="0" y="0" font-size="15" text-anchor="end" font-style="italic" fill="#000" transform="translate(200.00 774.30) rotate(-90) scale(0.92 1)" stroke="#000" stroke-width="0.75">Epb4.9</text>
<line x1="245.80" y1="635.00" x2="404.30" y2="635.00" stroke="#f4f4f4" stroke-width="1"/>
<line x1="245.80" y1="671.25" x2="404.30" y2="671.25" stroke="#f4f4f4" stroke-width="1"/>
<line x1="245.80" y1="707.50" x2="404.30" y2="707.50" stroke="#f4f4f4" stroke-width="1"/>
<line x1="245.80" y1="743.75" x2="404.30" y2="743.75" stroke="#f4f4f4" stroke-width="1"/>
<line x1="245.80" y1="653.10" x2="404.30" y2="653.10" stroke="#f9f9f9" stroke-width="0.8"/>
<line x1="245.80" y1="689.40" x2="404.30" y2="689.40" stroke="#f9f9f9" stroke-width="0.8"/>
<line x1="245.80" y1="725.60" x2="404.30" y2="725.60" stroke="#f9f9f9" stroke-width="0.8"/>
<line x1="245.80" y1="761.90" x2="404.30" y2="761.90" stroke="#f9f9f9" stroke-width="0.8"/>
<line x1="263.75" y1="622.40" x2="263.75" y2="766.80" stroke="#f4f4f4" stroke-width="1"/>
<line x1="263.75" y1="766.80" x2="263.75" y2="769.80" stroke="#444" stroke-width="1"/>
<line x1="294.30" y1="622.40" x2="294.30" y2="766.80" stroke="#f4f4f4" stroke-width="1"/>
<line x1="294.30" y1="766.80" x2="294.30" y2="769.80" stroke="#444" stroke-width="1"/>
<line x1="325.00" y1="622.40" x2="325.00" y2="766.80" stroke="#f4f4f4" stroke-width="1"/>
<line x1="325.00" y1="766.80" x2="325.00" y2="769.80" stroke="#444" stroke-width="1"/>
<line x1="355.40" y1="622.40" x2="355.40" y2="766.80" stroke="#f4f4f4" stroke-width="1"/>
<line x1="355.40" y1="766.80" x2="355.40" y2="769.80" stroke="#444" stroke-width="1"/>
<line x1="385.80" y1="622.40" x2="385.80" y2="766.80" stroke="#f4f4f4" stroke-width="1"/>
<line x1="385.80" y1="766.80" x2="385.80" y2="769.80" stroke="#444" stroke-width="1"/>
<text x="272.00" y="614.30" font-size="13.9" fill="#000" stroke="#000" stroke-width="0.6">GATA1-repressed</text>
<text x="242.50" y="639.80" font-size="13.8" text-anchor="end" fill="#000" stroke="#000" stroke-width="0.6">1</text>
<line x1="243.80" y1="635.00" x2="245.80" y2="635.00" stroke="#444" stroke-width="1"/>
<text x="242.50" y="676.05" font-size="13.8" text-anchor="end" fill="#000" stroke="#000" stroke-width="0.6">.1</text>
<line x1="243.80" y1="671.25" x2="245.80" y2="671.25" stroke="#444" stroke-width="1"/>
<text x="242.50" y="712.20" font-size="13.8" text-anchor="end" fill="#000" stroke="#000" stroke-width="0.6">.01</text>
<line x1="243.80" y1="707.40" x2="245.80" y2="707.40" stroke="#444" stroke-width="1"/>
<text x="242.50" y="748.10" font-size="13.8" text-anchor="end" fill="#000" stroke="#000" stroke-width="0.6">.001</text>
<line x1="243.80" y1="743.30" x2="245.80" y2="743.30" stroke="#444" stroke-width="1"/>
<rect x="256.80" y="635.00" width="6.95" height="6.25" fill="#6fa852" stroke="#0a0a0a" stroke-width="1.1"/>
<rect x="263.75" y="635.00" width="6.95" height="94.20" fill="#c9252b" stroke="#0a0a0a" stroke-width="1.1"/>
<rect x="270.70" y="635.00" width="6.95" height="64.50" fill="#4f7dbd" stroke="#0a0a0a" stroke-width="1.1"/>
<line x1="253.32" y1="631.25" x2="253.32" y2="640.75" stroke="#0a0a0a" stroke-width="1.15"/>
<line x1="250.02" y1="631.25" x2="256.62" y2="631.25" stroke="#0a0a0a" stroke-width="1.15"/>
<line x1="250.02" y1="640.75" x2="256.62" y2="640.75" stroke="#0a0a0a" stroke-width="1.15"/>
<line x1="250.54" y1="635.00" x2="256.11" y2="635.00" stroke="#111" stroke-width="0.9"/>
<line x1="260.27" y1="639.50" x2="260.27" y2="643.00" stroke="#0a0a0a" stroke-width="1.15"/>
<line x1="256.97" y1="639.50" x2="263.57" y2="639.50" stroke="#0a0a0a" stroke-width="1.15"/>
<line x1="256.97" y1="643.00" x2="263.57" y2="643.00" stroke="#0a0a0a" stroke-width="1.15"/>
<line x1="267.23" y1="726.20" x2="267.23" y2="732.70" stroke="#0a0a0a" stroke-width="1.15"/>
<line x1="263.93" y1="726.20" x2="270.53" y2="726.20" stroke="#0a0a0a" stroke-width="1.15"/>
<line x1="263.93" y1="732.70" x2="270.53" y2="732.70" stroke="#0a0a0a" stroke-width="1.15"/>
<line x1="274.18" y1="697.30" x2="274.18" y2="701.20" stroke="#0a0a0a" stroke-width="1.15"/>
<line x1="270.88" y1="697.30" x2="277.48" y2="697.30" stroke="#0a0a0a" stroke-width="1.15"/>
<line x1="270.88" y1="701.20" x2="277.48" y2="701.20" stroke="#0a0a0a" stroke-width="1.15"/>
<rect x="287.35" y="635.00" width="6.95" height="10.00" fill="#6fa852" stroke="#0a0a0a" stroke-width="1.1"/>
<rect x="294.30" y="635.00" width="6.95" height="93.00" fill="#c9252b" stroke="#0a0a0a" stroke-width="1.1"/>
<rect x="301.25" y="635.00" width="6.95" height="121.25" fill="#4f7dbd" stroke="#0a0a0a" stroke-width="1.1"/>
<line x1="283.88" y1="632.00" x2="283.88" y2="638.75" stroke="#0a0a0a" stroke-width="1.15"/>
<line x1="280.58" y1="632.00" x2="287.18" y2="632.00" stroke="#0a0a0a" stroke-width="1.15"/>
<line x1="280.58" y1="638.75" x2="287.18" y2="638.75" stroke="#0a0a0a" stroke-width="1.15"/>
<line x1="281.10" y1="635.00" x2="286.66" y2="635.00" stroke="#111" stroke-width="0.9"/>
<line x1="290.83" y1="642.50" x2="290.83" y2="648.00" stroke="#0a0a0a" stroke-width="1.15"/>
<line x1="287.53" y1="642.50" x2="294.13" y2="642.50" stroke="#0a0a0a" stroke-width="1.15"/>
<line x1="287.53" y1="648.00" x2="294.13" y2="648.00" stroke="#0a0a0a" stroke-width="1.15"/>
<line x1="297.78" y1="725.00" x2="297.78" y2="732.50" stroke="#0a0a0a" stroke-width="1.15"/>
<line x1="294.48" y1="725.00" x2="301.08" y2="725.00" stroke="#0a0a0a" stroke-width="1.15"/>
<line x1="294.48" y1="732.50" x2="301.08" y2="732.50" stroke="#0a0a0a" stroke-width="1.15"/>
<line x1="304.73" y1="753.25" x2="304.73" y2="760.00" stroke="#0a0a0a" stroke-width="1.15"/>
<line x1="301.43" y1="753.25" x2="308.03" y2="753.25" stroke="#0a0a0a" stroke-width="1.15"/>
<line x1="301.43" y1="760.00" x2="308.03" y2="760.00" stroke="#0a0a0a" stroke-width="1.15"/>
<rect x="318.05" y="635.00" width="6.95" height="27.50" fill="#6fa852" stroke="#0a0a0a" stroke-width="1.1"/>
<rect x="325.00" y="635.00" width="6.95" height="93.00" fill="#c9252b" stroke="#0a0a0a" stroke-width="1.1"/>
<rect x="331.95" y="635.00" width="6.95" height="113.00" fill="#4f7dbd" stroke="#0a0a0a" stroke-width="1.1"/>
<line x1="314.58" y1="628.75" x2="314.58" y2="645.75" stroke="#0a0a0a" stroke-width="1.15"/>
<line x1="311.28" y1="628.75" x2="317.88" y2="628.75" stroke="#0a0a0a" stroke-width="1.15"/>
<line x1="311.28" y1="645.75" x2="317.88" y2="645.75" stroke="#0a0a0a" stroke-width="1.15"/>
<line x1="311.80" y1="635.00" x2="317.36" y2="635.00" stroke="#111" stroke-width="0.9"/>
<line x1="321.53" y1="657.50" x2="321.53" y2="670.75" stroke="#0a0a0a" stroke-width="1.15"/>
<line x1="318.23" y1="657.50" x2="324.83" y2="657.50" stroke="#0a0a0a" stroke-width="1.15"/>
<line x1="318.23" y1="670.75" x2="324.83" y2="670.75" stroke="#0a0a0a" stroke-width="1.15"/>
<line x1="328.48" y1="722.50" x2="328.48" y2="737.50" stroke="#0a0a0a" stroke-width="1.15"/>
<line x1="325.18" y1="722.50" x2="331.78" y2="722.50" stroke="#0a0a0a" stroke-width="1.15"/>
<line x1="325.18" y1="737.50" x2="331.78" y2="737.50" stroke="#0a0a0a" stroke-width="1.15"/>
<line x1="335.43" y1="745.00" x2="335.43" y2="752.00" stroke="#0a0a0a" stroke-width="1.15"/>
<line x1="332.12" y1="745.00" x2="338.73" y2="745.00" stroke="#0a0a0a" stroke-width="1.15"/>
<line x1="332.12" y1="752.00" x2="338.73" y2="752.00" stroke="#0a0a0a" stroke-width="1.15"/>
<rect x="348.45" y="635.00" width="6.95" height="1.00" fill="#6fa852" stroke="#0a0a0a" stroke-width="1.1"/>
<rect x="355.40" y="635.00" width="6.95" height="67.30" fill="#c9252b" stroke="#0a0a0a" stroke-width="1.1"/>
<rect x="362.35" y="635.00" width="6.95" height="65.80" fill="#4f7dbd" stroke="#0a0a0a" stroke-width="1.1"/>
<line x1="344.98" y1="633.80" x2="344.98" y2="636.20" stroke="#0a0a0a" stroke-width="1.15"/>
<line x1="341.68" y1="633.80" x2="348.28" y2="633.80" stroke="#0a0a0a" stroke-width="1.15"/>
<line x1="341.68" y1="636.20" x2="348.28" y2="636.20" stroke="#0a0a0a" stroke-width="1.15"/>
<line x1="342.19" y1="635.00" x2="347.75" y2="635.00" stroke="#111" stroke-width="0.9"/>
<line x1="351.93" y1="628.25" x2="351.93" y2="637.00" stroke="#0a0a0a" stroke-width="1.15"/>
<line x1="348.62" y1="628.25" x2="355.23" y2="628.25" stroke="#0a0a0a" stroke-width="1.15"/>
<line x1="348.62" y1="637.00" x2="355.23" y2="637.00" stroke="#0a0a0a" stroke-width="1.15"/>
<line x1="358.88" y1="698.00" x2="358.88" y2="708.00" stroke="#0a0a0a" stroke-width="1.15"/>
<line x1="355.57" y1="698.00" x2="362.18" y2="698.00" stroke="#0a0a0a" stroke-width="1.15"/>
<line x1="355.57" y1="708.00" x2="362.18" y2="708.00" stroke="#0a0a0a" stroke-width="1.15"/>
<line x1="365.82" y1="696.80" x2="365.82" y2="703.90" stroke="#0a0a0a" stroke-width="1.15"/>
<line x1="362.52" y1="696.80" x2="369.12" y2="696.80" stroke="#0a0a0a" stroke-width="1.15"/>
<line x1="362.52" y1="703.90" x2="369.12" y2="703.90" stroke="#0a0a0a" stroke-width="1.15"/>
<rect x="378.85" y="635.00" width="6.95" height="10.30" fill="#6fa852" stroke="#0a0a0a" stroke-width="1.1"/>
<rect x="385.80" y="635.00" width="6.95" height="66.40" fill="#c9252b" stroke="#0a0a0a" stroke-width="1.1"/>
<rect x="392.75" y="635.00" width="6.95" height="91.00" fill="#4f7dbd" stroke="#0a0a0a" stroke-width="1.1"/>
<line x1="375.38" y1="632.50" x2="375.38" y2="638.25" stroke="#0a0a0a" stroke-width="1.15"/>
<line x1="372.08" y1="632.50" x2="378.68" y2="632.50" stroke="#0a0a0a" stroke-width="1.15"/>
<line x1="372.08" y1="638.25" x2="378.68" y2="638.25" stroke="#0a0a0a" stroke-width="1.15"/>
<line x1="372.60" y1="635.00" x2="378.16" y2="635.00" stroke="#111" stroke-width="0.9"/>
<line x1="382.33" y1="640.30" x2="382.33" y2="651.30" stroke="#0a0a0a" stroke-width="1.15"/>
<line x1="379.03" y1="640.30" x2="385.63" y2="640.30" stroke="#0a0a0a" stroke-width="1.15"/>
<line x1="379.03" y1="651.30" x2="385.63" y2="651.30" stroke="#0a0a0a" stroke-width="1.15"/>
<line x1="389.28" y1="696.80" x2="389.28" y2="707.50" stroke="#0a0a0a" stroke-width="1.15"/>
<line x1="385.98" y1="696.80" x2="392.58" y2="696.80" stroke="#0a0a0a" stroke-width="1.15"/>
<line x1="385.98" y1="707.50" x2="392.58" y2="707.50" stroke="#0a0a0a" stroke-width="1.15"/>
<line x1="396.23" y1="723.00" x2="396.23" y2="728.70" stroke="#0a0a0a" stroke-width="1.15"/>
<line x1="392.93" y1="723.00" x2="399.53" y2="723.00" stroke="#0a0a0a" stroke-width="1.15"/>
<line x1="392.93" y1="728.70" x2="399.53" y2="728.70" stroke="#0a0a0a" stroke-width="1.15"/>
<rect x="245.80" y="622.40" width="158.50" height="144.40" fill="none" stroke="#bcbcbc" stroke-width="1.1"/>
<text x="0" y="0" font-size="15" text-anchor="end" font-style="italic" fill="#000" transform="translate(266.75 774.30) rotate(-90) scale(0.92 1)" stroke="#000" stroke-width="0.75">Kit</text>
<text x="0" y="0" font-size="15" text-anchor="end" font-style="italic" fill="#000" transform="translate(297.30 774.30) rotate(-90) scale(0.92 1)" stroke="#000" stroke-width="0.75">Lyl1</text>
<text x="0" y="0" font-size="15" text-anchor="end" font-style="italic" fill="#000" transform="translate(328.00 774.30) rotate(-90) scale(0.92 1)" stroke="#000" stroke-width="0.75">Myb</text>
<text x="0" y="0" font-size="15" text-anchor="end" font-style="italic" fill="#000" transform="translate(358.40 774.30) rotate(-90) scale(0.92 1)" stroke="#000" stroke-width="0.75">Gata2</text>
<text x="0" y="0" font-size="15" text-anchor="end" font-style="italic" fill="#000" transform="translate(388.80 774.30) rotate(-90) scale(0.92 1)" stroke="#000" stroke-width="0.75">Myc</text>
<rect x="421.70" y="633.60" width="28.90" height="25.60" fill="#a3a3a3" stroke="#000" stroke-width="1.7"/>
<line x1="421.70" y1="659.20" x2="450.60" y2="633.60" stroke="#000" stroke-width="1.6"/>
<rect x="421.70" y="659.20" width="28.90" height="26.20" fill="#6faa55" stroke="#000" stroke-width="1.7"/>
<line x1="421.70" y1="685.40" x2="450.60" y2="659.20" stroke="#000" stroke-width="1.6"/>
<rect x="421.70" y="685.40" width="28.90" height="25.70" fill="#d12228" stroke="#000" stroke-width="1.7"/>
<line x1="421.70" y1="711.10" x2="450.60" y2="685.40" stroke="#000" stroke-width="1.6"/>
<rect x="421.70" y="711.10" width="28.90" height="26.10" fill="#4f7fc2" stroke="#000" stroke-width="1.7"/>
<line x1="421.70" y1="737.20" x2="450.60" y2="711.10" stroke="#000" stroke-width="1.6"/>
<text x="444.90" y="626.90" font-size="13.9" fill="#000" stroke="#000" stroke-width="0.75">GATA1</text>
<text x="496.50" y="626.90" font-size="13.9" fill="#000" stroke="#000" stroke-width="0.75">JQ1</text>
<text x="466.50" y="649.20" font-size="13.9" text-anchor="middle" fill="#000" stroke="#000" stroke-width="0.6">-</text>
<text x="511.00" y="649.20" font-size="13.9" text-anchor="middle" fill="#000" stroke="#000" stroke-width="0.6">-</text>
<text x="466.50" y="675.00" font-size="13.9" text-anchor="middle" fill="#000" stroke="#000" stroke-width="0.6">-</text>
<text x="512.30" y="675.00" font-size="13.9" text-anchor="middle" fill="#000" stroke="#000" stroke-width="0.6">+</text>
<text x="464.60" y="703.50" font-size="13.9" text-anchor="middle" fill="#000" stroke="#000" stroke-width="0.6">+</text>
<text x="511.00" y="703.50" font-size="13.9" text-anchor="middle" fill="#000" stroke="#000" stroke-width="0.6">-</text>
<text x="464.60" y="729.00" font-size="13.9" text-anchor="middle" fill="#000" stroke="#000" stroke-width="0.6">+</text>
<text x="512.30" y="729.00" font-size="13.9" text-anchor="middle" fill="#000" stroke="#000" stroke-width="0.6">+</text>
</g>
<g id="panelE">
<text x="-2.80" y="867.50" font-size="27" font-weight="bold" fill="#000" stroke="#000" stroke-width="0.6">E</text>
<text x="0" y="0" font-size="15" fill="#000" transform="translate(10.70 1045.60) rotate(-90) scale(0.95 1)" stroke="#000" stroke-width="0.7">relative mRNA / GAPDH</text>
<line x1="55.00" y1="875.50" x2="111.30" y2="875.50" stroke="#f0f0f0" stroke-width="1"/>
<line x1="55.00" y1="895.70" x2="111.30" y2="895.70" stroke="#f0f0f0" stroke-width="1"/>
<line x1="55.00" y1="916.10" x2="111.30" y2="916.10" stroke="#f0f0f0" stroke-width="1"/>
<line x1="55.00" y1="936.50" x2="111.30" y2="936.50" stroke="#f0f0f0" stroke-width="1"/>
<line x1="55.00" y1="956.80" x2="111.30" y2="956.80" stroke="#f0f0f0" stroke-width="1"/>
<line x1="55.00" y1="885.60" x2="111.30" y2="885.60" stroke="#f8f8f8" stroke-width="0.8"/>
<line x1="55.00" y1="905.90" x2="111.30" y2="905.90" stroke="#f8f8f8" stroke-width="0.8"/>
<line x1="55.00" y1="926.30" x2="111.30" y2="926.30" stroke="#f8f8f8" stroke-width="0.8"/>
<line x1="55.00" y1="946.65" x2="111.30" y2="946.65" stroke="#f8f8f8" stroke-width="0.8"/>
<line x1="66.00" y1="867.10" x2="66.00" y2="960.90" stroke="#f0f0f0" stroke-width="1"/>
<line x1="83.90" y1="867.10" x2="83.90" y2="960.90" stroke="#f0f0f0" stroke-width="1"/>
<line x1="101.65" y1="867.10" x2="101.65" y2="960.90" stroke="#f0f0f0" stroke-width="1"/>
<rect x="55.00" y="867.10" width="56.30" height="93.80" fill="none" stroke="#aaaaaa" stroke-width="1.1"/>
<text x="48.70" y="879.30" font-size="10.6" text-anchor="end" fill="#000" stroke="#000" stroke-width="0.8">40</text>
<line x1="49.70" y1="875.50" x2="55.00" y2="875.50" stroke="#000" stroke-width="1.4"/>
<text x="48.70" y="899.50" font-size="10.6" text-anchor="end" fill="#000" stroke="#000" stroke-width="0.8">30</text>
<line x1="49.70" y1="895.70" x2="55.00" y2="895.70" stroke="#000" stroke-width="1.4"/>
<text x="48.70" y="919.90" font-size="10.6" text-anchor="end" fill="#000" stroke="#000" stroke-width="0.8">20</text>
<line x1="49.70" y1="916.10" x2="55.00" y2="916.10" stroke="#000" stroke-width="1.4"/>
<text x="48.70" y="940.30" font-size="10.6" text-anchor="end" fill="#000" stroke="#000" stroke-width="0.8">10</text>
<line x1="49.70" y1="936.50" x2="55.00" y2="936.50" stroke="#000" stroke-width="1.4"/>
<text x="48.70" y="960.60" font-size="10.6" text-anchor="end" fill="#000" stroke="#000" stroke-width="0.8">0</text>
<line x1="49.70" y1="956.80" x2="55.00" y2="956.80" stroke="#000" stroke-width="1.4"/>
<rect x="57.30" y="954.10" width="17.40" height="3.00" fill="#0a0a0a" stroke="#0a0a0a" stroke-width="0.6"/>
<rect x="75.90" y="881.25" width="16.00" height="75.45" fill="#5fae46" stroke="#0a0a0a" stroke-width="1.5"/>
<line x1="83.90" y1="872.00" x2="83.90" y2="891.75" stroke="#0a0a0a" stroke-width="1.3"/>
<line x1="75.90" y1="872.00" x2="91.90" y2="872.00" stroke="#0a0a0a" stroke-width="1.3"/>
<line x1="75.90" y1="891.75" x2="91.90" y2="891.75" stroke="#0a0a0a" stroke-width="1.3"/>
<rect x="93.90" y="943.75" width="15.50" height="12.95" fill="#6b93f0" stroke="#0a0a0a" stroke-width="1.5"/>
<rect x="93.90" y="942.50" width="15.50" height="5.00" fill="#0a0a0a" stroke="none" stroke-width="1"/>
<text x="102.00" y="912.65" font-size="12.5" text-anchor="middle" font-weight="bold" fill="#000" stroke="#000" stroke-width="1.0">*</text>
<line x1="84.10" y1="866.90" x2="92.80" y2="866.90" stroke="#000" stroke-width="1.7"/>
<text x="86.50" y="864.30" font-size="14.1" text-anchor="middle" font-style="italic" fill="#000" stroke="#000" stroke-width="0.85">Hbb-b1</text>
<line x1="159.50" y1="885.50" x2="215.80" y2="885.50" stroke="#f0f0f0" stroke-width="1"/>
<line x1="159.50" y1="909.30" x2="215.80" y2="909.30" stroke="#f0f0f0" stroke-width="1"/>
<line x1="159.50" y1="933.20" x2="215.80" y2="933.20" stroke="#f0f0f0" stroke-width="1"/>
<line x1="159.50" y1="957.00" x2="215.80" y2="957.00" stroke="#f0f0f0" stroke-width="1"/>
<line x1="159.50" y1="897.40" x2="215.80" y2="897.40" stroke="#f8f8f8" stroke-width="0.8"/>
<line x1="159.50" y1="921.25" x2="215.80" y2="921.25" stroke="#f8f8f8" stroke-width="0.8"/>
<line x1="159.50" y1="945.10" x2="215.80" y2="945.10" stroke="#f8f8f8" stroke-width="0.8"/>
<line x1="170.30" y1="867.40" x2="170.30" y2="961.10" stroke="#f0f0f0" stroke-width="1"/>
<line x1="188.15" y1="867.40" x2="188.15" y2="961.10" stroke="#f0f0f0" stroke-width="1"/>
<line x1="206.40" y1="867.40" x2="206.40" y2="961.10" stroke="#f0f0f0" stroke-width="1"/>
<rect x="159.50" y="867.40" width="56.30" height="93.70" fill="none" stroke="#aaaaaa" stroke-width="1.1"/>
<text x="151.00" y="889.30" font-size="10.6" text-anchor="end" fill="#000" stroke="#000" stroke-width="0.8">30</text>
<line x1="152.00" y1="885.50" x2="159.50" y2="885.50" stroke="#000" stroke-width="1.4"/>
<text x="151.00" y="913.10" font-size="10.6" text-anchor="end" fill="#000" stroke="#000" stroke-width="0.8">20</text>
<line x1="152.00" y1="909.30" x2="159.50" y2="909.30" stroke="#000" stroke-width="1.4"/>
<text x="151.00" y="937.00" font-size="10.6" text-anchor="end" fill="#000" stroke="#000" stroke-width="0.8">10</text>
<line x1="152.00" y1="933.20" x2="159.50" y2="933.20" stroke="#000" stroke-width="1.4"/>
<text x="151.00" y="960.80" font-size="10.6" text-anchor="end" fill="#000" stroke="#000" stroke-width="0.8">0</text>
<line x1="152.00" y1="957.00" x2="159.50" y2="957.00" stroke="#000" stroke-width="1.4"/>
<rect x="161.60" y="954.10" width="17.40" height="3.00" fill="#0a0a0a" stroke="#0a0a0a" stroke-width="0.6"/>
<rect x="180.60" y="880.50" width="15.10" height="76.20" fill="#5fae46" stroke="#0a0a0a" stroke-width="1.5"/>
<line x1="188.15" y1="872.00" x2="188.15" y2="889.25" stroke="#0a0a0a" stroke-width="1.3"/>
<line x1="180.60" y1="872.00" x2="195.70" y2="872.00" stroke="#0a0a0a" stroke-width="1.3"/>
<line x1="180.60" y1="889.25" x2="195.70" y2="889.25" stroke="#0a0a0a" stroke-width="1.3"/>
<rect x="198.90" y="929.50" width="15.00" height="27.20" fill="#6b93f0" stroke="#0a0a0a" stroke-width="1.5"/>
<line x1="206.40" y1="926.25" x2="206.40" y2="933.00" stroke="#0a0a0a" stroke-width="1.3"/>
<line x1="198.90" y1="926.25" x2="213.90" y2="926.25" stroke="#0a0a0a" stroke-width="1.3"/>
<line x1="198.90" y1="933.00" x2="213.90" y2="933.00" stroke="#0a0a0a" stroke-width="1.3"/>
<text x="205.75" y="912.65" font-size="12.5" text-anchor="middle" font-weight="bold" fill="#000" stroke="#000" stroke-width="1.0">*</text>
<line x1="196.30" y1="866.90" x2="205.00" y2="866.90" stroke="#000" stroke-width="1.7"/>
<text x="187.80" y="864.60" font-size="14.1" text-anchor="middle" font-style="italic" fill="#000" stroke="#000" stroke-width="0.85">Hba-a1</text>
<line x1="254.50" y1="898.00" x2="311.80" y2="898.00" stroke="#f0f0f0" stroke-width="1"/>
<line x1="254.50" y1="926.80" x2="311.80" y2="926.80" stroke="#f0f0f0" stroke-width="1"/>
<line x1="254.50" y1="955.80" x2="311.80" y2="955.80" stroke="#f0f0f0" stroke-width="1"/>
<line x1="254.50" y1="912.40" x2="311.80" y2="912.40" stroke="#f8f8f8" stroke-width="0.8"/>
<line x1="254.50" y1="941.30" x2="311.80" y2="941.30" stroke="#f8f8f8" stroke-width="0.8"/>
<line x1="265.55" y1="867.40" x2="265.55" y2="961.10" stroke="#f0f0f0" stroke-width="1"/>
<line x1="283.40" y1="867.40" x2="283.40" y2="961.10" stroke="#f0f0f0" stroke-width="1"/>
<line x1="301.00" y1="867.40" x2="301.00" y2="961.10" stroke="#f0f0f0" stroke-width="1"/>
<rect x="254.50" y="867.40" width="57.30" height="93.70" fill="none" stroke="#aaaaaa" stroke-width="1.1"/>
<text x="251.80" y="901.80" font-size="10.6" text-anchor="end" fill="#000" stroke="#000" stroke-width="0.8">20</text>
<line x1="252.80" y1="898.00" x2="254.50" y2="898.00" stroke="#000" stroke-width="1.4"/>
<text x="251.80" y="930.60" font-size="10.6" text-anchor="end" fill="#000" stroke="#000" stroke-width="0.8">10</text>
<line x1="252.80" y1="926.80" x2="254.50" y2="926.80" stroke="#000" stroke-width="1.4"/>
<text x="251.80" y="959.60" font-size="10.6" text-anchor="end" fill="#000" stroke="#000" stroke-width="0.8">0</text>
<line x1="252.80" y1="955.80" x2="254.50" y2="955.80" stroke="#000" stroke-width="1.4"/>
<rect x="257.10" y="954.10" width="16.90" height="3.00" fill="#0a0a0a" stroke="#0a0a0a" stroke-width="0.6"/>
<rect x="275.60" y="880.00" width="15.60" height="76.70" fill="#5fae46" stroke="#0a0a0a" stroke-width="1.5"/>
<line x1="283.40" y1="872.00" x2="283.40" y2="887.50" stroke="#0a0a0a" stroke-width="1.3"/>
<line x1="275.60" y1="872.00" x2="291.20" y2="872.00" stroke="#0a0a0a" stroke-width="1.3"/>
<line x1="275.60" y1="887.50" x2="291.20" y2="887.50" stroke="#0a0a0a" stroke-width="1.3"/>
<rect x="293.10" y="943.75" width="15.80" height="12.95" fill="#6b93f0" stroke="#0a0a0a" stroke-width="1.5"/>
<rect x="293.10" y="942.50" width="15.80" height="3.50" fill="#0a0a0a" stroke="none" stroke-width="1"/>
<text x="302.50" y="912.65" font-size="12.5" text-anchor="middle" font-weight="bold" fill="#000" stroke="#000" stroke-width="1.0">*</text>
<text x="284.40" y="864.60" font-size="14.1" text-anchor="middle" font-style="italic" fill="#000" stroke="#000" stroke-width="0.85">Slc4a1</text>
<line x1="345.80" y1="893.00" x2="402.50" y2="893.00" stroke="#f0f0f0" stroke-width="1"/>
<line x1="345.80" y1="925.00" x2="402.50" y2="925.00" stroke="#f0f0f0" stroke-width="1"/>
<line x1="345.80" y1="956.30" x2="402.50" y2="956.30" stroke="#f0f0f0" stroke-width="1"/>
<line x1="345.80" y1="909.00" x2="402.50" y2="909.00" stroke="#f8f8f8" stroke-width="0.8"/>
<line x1="345.80" y1="940.65" x2="402.50" y2="940.65" stroke="#f8f8f8" stroke-width="0.8"/>
<line x1="356.90" y1="867.40" x2="356.90" y2="961.10" stroke="#f0f0f0" stroke-width="1"/>
<line x1="374.40" y1="867.40" x2="374.40" y2="961.10" stroke="#f0f0f0" stroke-width="1"/>
<line x1="392.30" y1="867.40" x2="392.30" y2="961.10" stroke="#f0f0f0" stroke-width="1"/>
<rect x="345.80" y="867.40" width="56.70" height="93.70" fill="none" stroke="#aaaaaa" stroke-width="1.1"/>
<text x="342.00" y="896.80" font-size="10.6" text-anchor="end" fill="#000" stroke="#000" stroke-width="0.8">20</text>
<line x1="343.00" y1="893.00" x2="345.80" y2="893.00" stroke="#000" stroke-width="1.4"/>
<text x="342.00" y="928.80" font-size="10.6" text-anchor="end" fill="#000" stroke="#000" stroke-width="0.8">10</text>
<line x1="343.00" y1="925.00" x2="345.80" y2="925.00" stroke="#000" stroke-width="1.4"/>
<text x="342.00" y="960.10" font-size="10.6" text-anchor="end" fill="#000" stroke="#000" stroke-width="0.8">0</text>
<line x1="343.00" y1="956.30" x2="345.80" y2="956.30" stroke="#000" stroke-width="1.4"/>
<rect x="348.30" y="952.50" width="17.20" height="4.60" fill="#0a0a0a" stroke="#0a0a0a" stroke-width="0.6"/>
<rect x="366.90" y="876.25" width="15.00" height="80.45" fill="#5fae46" stroke="#0a0a0a" stroke-width="1.5"/>
<line x1="374.40" y1="872.50" x2="374.40" y2="878.75" stroke="#0a0a0a" stroke-width="1.3"/>
<line x1="366.90" y1="872.50" x2="381.90" y2="872.50" stroke="#0a0a0a" stroke-width="1.3"/>
<line x1="366.90" y1="878.75" x2="381.90" y2="878.75" stroke="#0a0a0a" stroke-width="1.3"/>
<rect x="384.40" y="935.00" width="15.80" height="21.70" fill="#6b93f0" stroke="#0a0a0a" stroke-width="1.5"/>
<line x1="392.30" y1="933.00" x2="392.30" y2="938.25" stroke="#0a0a0a" stroke-width="1.3"/>
<line x1="384.40" y1="933.00" x2="400.20" y2="933.00" stroke="#0a0a0a" stroke-width="1.3"/>
<line x1="384.40" y1="938.25" x2="400.20" y2="938.25" stroke="#0a0a0a" stroke-width="1.3"/>
<text x="393.00" y="912.65" font-size="12.5" text-anchor="middle" font-weight="bold" fill="#000" stroke="#000" stroke-width="1.0">*</text>
<text x="373.80" y="864.60" font-size="14.1" text-anchor="middle" font-style="italic" fill="#000" stroke="#000" stroke-width="0.85">Alas2</text>
<line x1="55.00" y1="1010.00" x2="111.30" y2="1010.00" stroke="#f0f0f0" stroke-width="1"/>
<line x1="55.00" y1="1043.80" x2="111.30" y2="1043.80" stroke="#f0f0f0" stroke-width="1"/>
<line x1="55.00" y1="1074.30" x2="111.30" y2="1074.30" stroke="#f0f0f0" stroke-width="1"/>
<line x1="55.00" y1="1026.90" x2="111.30" y2="1026.90" stroke="#f8f8f8" stroke-width="0.8"/>
<line x1="55.00" y1="1059.05" x2="111.30" y2="1059.05" stroke="#f8f8f8" stroke-width="0.8"/>
<line x1="65.75" y1="987.00" x2="65.75" y2="1077.60" stroke="#f0f0f0" stroke-width="1"/>
<line x1="83.65" y1="987.00" x2="83.65" y2="1077.60" stroke="#f0f0f0" stroke-width="1"/>
<line x1="101.80" y1="987.00" x2="101.80" y2="1077.60" stroke="#f0f0f0" stroke-width="1"/>
<rect x="55.00" y="987.00" width="56.30" height="90.60" fill="none" stroke="#aaaaaa" stroke-width="1.1"/>
<text x="48.60" y="1013.80" font-size="10.6" text-anchor="end" fill="#000" stroke="#000" stroke-width="0.8">1</text>
<line x1="49.60" y1="1010.00" x2="55.00" y2="1010.00" stroke="#000" stroke-width="1.4"/>
<text x="48.60" y="1047.60" font-size="10.6" text-anchor="end" fill="#000" stroke="#000" stroke-width="0.8">.5</text>
<line x1="49.60" y1="1043.80" x2="55.00" y2="1043.80" stroke="#000" stroke-width="1.4"/>
<text x="48.60" y="1078.10" font-size="10.6" text-anchor="end" fill="#000" stroke="#000" stroke-width="0.8">0</text>
<line x1="49.60" y1="1074.30" x2="55.00" y2="1074.30" stroke="#000" stroke-width="1.4"/>
<rect x="57.80" y="1010.00" width="15.90" height="66.00" fill="#e0736a" stroke="#0a0a0a" stroke-width="1.5"/>
<line x1="65.75" y1="990.80" x2="65.75" y2="1030.75" stroke="#0a0a0a" stroke-width="1.3"/>
<line x1="57.80" y1="990.80" x2="73.70" y2="990.80" stroke="#0a0a0a" stroke-width="1.3"/>
<line x1="57.80" y1="1030.75" x2="73.70" y2="1030.75" stroke="#0a0a0a" stroke-width="1.3"/>
<rect x="75.90" y="1068.00" width="15.50" height="8.00" fill="#5fae46" stroke="#0a0a0a" stroke-width="1.5"/>
<rect x="75.90" y="1066.80" width="15.50" height="2.40" fill="#0a0a0a" stroke="none" stroke-width="1"/>
<rect x="94.00" y="1070.30" width="15.60" height="5.70" fill="#6b93f0" stroke="#0a0a0a" stroke-width="1.5"/>
<rect x="94.00" y="1069.10" width="15.60" height="3.50" fill="#0a0a0a" stroke="none" stroke-width="1"/>
<text x="85.00" y="983.40" font-size="14.1" text-anchor="middle" font-style="italic" fill="#000" stroke="#000" stroke-width="0.85">Gata2</text>
<line x1="159.50" y1="988.80" x2="215.80" y2="988.80" stroke="#f0f0f0" stroke-width="1"/>
<line x1="159.50" y1="1005.50" x2="215.80" y2="1005.50" stroke="#f0f0f0" stroke-width="1"/>
<line x1="159.50" y1="1023.80" x2="215.80" y2="1023.80" stroke="#f0f0f0" stroke-width="1"/>
<line x1="159.50" y1="1041.80" x2="215.80" y2="1041.80" stroke="#f0f0f0" stroke-width="1"/>
<line x1="159.50" y1="1059.30" x2="215.80" y2="1059.30" stroke="#f0f0f0" stroke-width="1"/>
<line x1="159.50" y1="1076.30" x2="215.80" y2="1076.30" stroke="#f0f0f0" stroke-width="1"/>
<line x1="159.50" y1="997.15" x2="215.80" y2="997.15" stroke="#f8f8f8" stroke-width="0.8"/>
<line x1="159.50" y1="1014.65" x2="215.80" y2="1014.65" stroke="#f8f8f8" stroke-width="0.8"/>
<line x1="159.50" y1="1032.80" x2="215.80" y2="1032.80" stroke="#f8f8f8" stroke-width="0.8"/>
<line x1="159.50" y1="1050.55" x2="215.80" y2="1050.55" stroke="#f8f8f8" stroke-width="0.8"/>
<line x1="159.50" y1="1067.80" x2="215.80" y2="1067.80" stroke="#f8f8f8" stroke-width="0.8"/>
<line x1="169.90" y1="987.00" x2="169.90" y2="1078.00" stroke="#f0f0f0" stroke-width="1"/>
<line x1="187.50" y1="987.00" x2="187.50" y2="1078.00" stroke="#f0f0f0" stroke-width="1"/>
<line x1="205.50" y1="987.00" x2="205.50" y2="1078.00" stroke="#f0f0f0" stroke-width="1"/>
<rect x="159.50" y="987.00" width="56.30" height="91.00" fill="none" stroke="#aaaaaa" stroke-width="1.1"/>
<text x="151.00" y="992.60" font-size="10.6" text-anchor="end" fill="#000" stroke="#000" stroke-width="0.8">1.25</text>
<line x1="152.00" y1="988.80" x2="159.50" y2="988.80" stroke="#000" stroke-width="1.4"/>
<text x="151.00" y="1009.30" font-size="10.6" text-anchor="end" fill="#000" stroke="#000" stroke-width="0.8">1</text>
<line x1="152.00" y1="1005.50" x2="159.50" y2="1005.50" stroke="#000" stroke-width="1.4"/>
<text x="151.00" y="1027.60" font-size="10.6" text-anchor="end" fill="#000" stroke="#000" stroke-width="0.8">.75</text>
<line x1="152.00" y1="1023.80" x2="159.50" y2="1023.80" stroke="#000" stroke-width="1.4"/>
<text x="151.00" y="1045.60" font-size="10.6" text-anchor="end" fill="#000" stroke="#000" stroke-width="0.8">.5</text>
<line x1="152.00" y1="1041.80" x2="159.50" y2="1041.80" stroke="#000" stroke-width="1.4"/>
<text x="151.00" y="1063.10" font-size="10.6" text-anchor="end" fill="#000" stroke="#000" stroke-width="0.8">.25</text>
<line x1="152.00" y1="1059.30" x2="159.50" y2="1059.30" stroke="#000" stroke-width="1.4"/>
<text x="151.00" y="1080.10" font-size="10.6" text-anchor="end" fill="#000" stroke="#000" stroke-width="0.8">0</text>
<line x1="152.00" y1="1076.30" x2="159.50" y2="1076.30" stroke="#000" stroke-width="1.4"/>
<rect x="161.90" y="1005.50" width="16.00" height="70.50" fill="#e0736a" stroke="#0a0a0a" stroke-width="1.5"/>
<line x1="169.90" y1="990.50" x2="169.90" y2="1021.75" stroke="#0a0a0a" stroke-width="1.3"/>
<line x1="161.90" y1="990.50" x2="177.90" y2="990.50" stroke="#0a0a0a" stroke-width="1.3"/>
<line x1="161.90" y1="1021.75" x2="177.90" y2="1021.75" stroke="#0a0a0a" stroke-width="1.3"/>
<rect x="178.80" y="1073.40" width="17.40" height="3.00" fill="#0a0a0a" stroke="#0a0a0a" stroke-width="0.6"/>
<rect x="196.80" y="1073.40" width="17.40" height="3.00" fill="#0a0a0a" stroke="#0a0a0a" stroke-width="0.6"/>
<text x="184.00" y="983.40" font-size="14.1" text-anchor="middle" font-style="italic" fill="#000" stroke="#000" stroke-width="0.85">Kit</text>
<line x1="254.50" y1="1005.50" x2="311.80" y2="1005.50" stroke="#f0f0f0" stroke-width="1"/>
<line x1="254.50" y1="1030.00" x2="311.80" y2="1030.00" stroke="#f0f0f0" stroke-width="1"/>
<line x1="254.50" y1="1053.00" x2="311.80" y2="1053.00" stroke="#f0f0f0" stroke-width="1"/>
<line x1="254.50" y1="1076.30" x2="311.80" y2="1076.30" stroke="#f0f0f0" stroke-width="1"/>
<line x1="254.50" y1="1017.75" x2="311.80" y2="1017.75" stroke="#f8f8f8" stroke-width="0.8"/>
<line x1="254.50" y1="1041.50" x2="311.80" y2="1041.50" stroke="#f8f8f8" stroke-width="0.8"/>
<line x1="254.50" y1="1064.65" x2="311.80" y2="1064.65" stroke="#f8f8f8" stroke-width="0.8"/>
<line x1="265.15" y1="987.00" x2="265.15" y2="1078.00" stroke="#f0f0f0" stroke-width="1"/>
<line x1="283.25" y1="987.00" x2="283.25" y2="1078.00" stroke="#f0f0f0" stroke-width="1"/>
<line x1="301.00" y1="987.00" x2="301.00" y2="1078.00" stroke="#f0f0f0" stroke-width="1"/>
<rect x="254.50" y="987.00" width="57.30" height="91.00" fill="none" stroke="#aaaaaa" stroke-width="1.1"/>
<text x="251.80" y="1009.30" font-size="10.6" text-anchor="end" fill="#000" stroke="#000" stroke-width="0.8">.9</text>
<line x1="252.80" y1="1005.50" x2="254.50" y2="1005.50" stroke="#000" stroke-width="1.4"/>
<text x="251.80" y="1033.80" font-size="10.6" text-anchor="end" fill="#000" stroke="#000" stroke-width="0.8">.6</text>
<line x1="252.80" y1="1030.00" x2="254.50" y2="1030.00" stroke="#000" stroke-width="1.4"/>
<text x="251.80" y="1056.80" font-size="10.6" text-anchor="end" fill="#000" stroke="#000" stroke-width="0.8">.3</text>
<line x1="252.80" y1="1053.00" x2="254.50" y2="1053.00" stroke="#000" stroke-width="1.4"/>
<text x="251.80" y="1080.10" font-size="10.6" text-anchor="end" fill="#000" stroke="#000" stroke-width="0.8">0</text>
<line x1="252.80" y1="1076.30" x2="254.50" y2="1076.30" stroke="#000" stroke-width="1.4"/>
<rect x="257.40" y="1000.00" width="15.50" height="76.00" fill="#e0736a" stroke="#0a0a0a" stroke-width="1.5"/>
<line x1="265.15" y1="990.50" x2="265.15" y2="1009.25" stroke="#0a0a0a" stroke-width="1.3"/>
<line x1="257.40" y1="990.50" x2="272.90" y2="990.50" stroke="#0a0a0a" stroke-width="1.3"/>
<line x1="257.40" y1="1009.25" x2="272.90" y2="1009.25" stroke="#0a0a0a" stroke-width="1.3"/>
<rect x="275.60" y="1067.50" width="15.30" height="8.50" fill="#5fae46" stroke="#0a0a0a" stroke-width="1.5"/>
<rect x="275.60" y="1066.30" width="15.30" height="2.30" fill="#0a0a0a" stroke="none" stroke-width="1"/>
<rect x="293.10" y="1070.00" width="15.80" height="6.00" fill="#6b93f0" stroke="#0a0a0a" stroke-width="1.5"/>
<rect x="293.10" y="1069.10" width="15.80" height="2.30" fill="#0a0a0a" stroke="none" stroke-width="1"/>
<text x="284.40" y="983.40" font-size="14.1" text-anchor="middle" font-style="italic" fill="#000" stroke="#000" stroke-width="0.85">Myb</text>
<line x1="345.80" y1="1003.80" x2="402.50" y2="1003.80" stroke="#f0f0f0" stroke-width="1"/>
<line x1="345.80" y1="1027.50" x2="402.50" y2="1027.50" stroke="#f0f0f0" stroke-width="1"/>
<line x1="345.80" y1="1051.30" x2="402.50" y2="1051.30" stroke="#f0f0f0" stroke-width="1"/>
<line x1="345.80" y1="1074.30" x2="402.50" y2="1074.30" stroke="#f0f0f0" stroke-width="1"/>
<line x1="345.80" y1="1015.65" x2="402.50" y2="1015.65" stroke="#f8f8f8" stroke-width="0.8"/>
<line x1="345.80" y1="1039.40" x2="402.50" y2="1039.40" stroke="#f8f8f8" stroke-width="0.8"/>
<line x1="345.80" y1="1062.80" x2="402.50" y2="1062.80" stroke="#f8f8f8" stroke-width="0.8"/>
<line x1="356.75" y1="987.00" x2="356.75" y2="1078.00" stroke="#f0f0f0" stroke-width="1"/>
<line x1="374.40" y1="987.00" x2="374.40" y2="1078.00" stroke="#f0f0f0" stroke-width="1"/>
<line x1="392.30" y1="987.00" x2="392.30" y2="1078.00" stroke="#f0f0f0" stroke-width="1"/>
<rect x="345.80" y="987.00" width="56.70" height="91.00" fill="none" stroke="#aaaaaa" stroke-width="1.1"/>
<text x="342.00" y="1007.60" font-size="10.6" text-anchor="end" fill="#000" stroke="#000" stroke-width="0.8">6</text>
<line x1="343.00" y1="1003.80" x2="345.80" y2="1003.80" stroke="#000" stroke-width="1.4"/>
<text x="342.00" y="1031.30" font-size="10.6" text-anchor="end" fill="#000" stroke="#000" stroke-width="0.8">4</text>
<line x1="343.00" y1="1027.50" x2="345.80" y2="1027.50" stroke="#000" stroke-width="1.4"/>
<text x="342.00" y="1055.10" font-size="10.6" text-anchor="end" fill="#000" stroke="#000" stroke-width="0.8">2</text>
<line x1="343.00" y1="1051.30" x2="345.80" y2="1051.30" stroke="#000" stroke-width="1.4"/>
<text x="342.00" y="1078.10" font-size="10.6" text-anchor="end" fill="#000" stroke="#000" stroke-width="0.8">0</text>
<line x1="343.00" y1="1074.30" x2="345.80" y2="1074.30" stroke="#000" stroke-width="1.4"/>
<rect x="348.60" y="1063.75" width="16.30" height="12.25" fill="#e0736a" stroke="#0a0a0a" stroke-width="1.5"/>
<line x1="356.75" y1="1060.50" x2="356.75" y2="1067.00" stroke="#0a0a0a" stroke-width="1.3"/>
<line x1="348.60" y1="1060.50" x2="364.90" y2="1060.50" stroke="#0a0a0a" stroke-width="1.3"/>
<line x1="348.60" y1="1067.00" x2="364.90" y2="1067.00" stroke="#0a0a0a" stroke-width="1.3"/>
<rect x="366.90" y="1040.75" width="15.00" height="35.25" fill="#5fae46" stroke="#0a0a0a" stroke-width="1.5"/>
<rect x="366.90" y="1038.80" width="15.00" height="3.80" fill="#0a0a0a" stroke="none" stroke-width="1"/>
<rect x="384.40" y="1001.75" width="15.80" height="74.25" fill="#6b93f0" stroke="#0a0a0a" stroke-width="1.5"/>
<line x1="392.30" y1="990.00" x2="392.30" y2="1013.75" stroke="#0a0a0a" stroke-width="1.3"/>
<line x1="384.40" y1="990.00" x2="400.20" y2="990.00" stroke="#0a0a0a" stroke-width="1.3"/>
<line x1="384.40" y1="1013.75" x2="400.20" y2="1013.75" stroke="#0a0a0a" stroke-width="1.3"/>
<text x="376.30" y="983.40" font-size="14.1" text-anchor="middle" font-style="italic" fill="#000" stroke="#000" stroke-width="0.85">Hexim1</text>
<circle cx="318.80" cy="892.30" r="0.6" fill="#c8c8c8"/>
<circle cx="318.80" cy="895.30" r="0.6" fill="#c8c8c8"/>
<rect x="421.00" y="878.80" width="29.20" height="26.10" fill="#e0736a" stroke="#000" stroke-width="1.7"/>
<line x1="421.00" y1="904.90" x2="450.20" y2="878.80" stroke="#000" stroke-width="1.6"/>
<rect x="421.00" y="904.90" width="29.20" height="26.20" fill="#5fae46" stroke="#000" stroke-width="1.7"/>
<line x1="421.00" y1="931.10" x2="450.20" y2="904.90" stroke="#000" stroke-width="1.6"/>
<rect x="421.00" y="931.10" width="29.20" height="26.00" fill="#6b93f0" stroke="#000" stroke-width="1.7"/>
<line x1="421.00" y1="957.10" x2="450.20" y2="931.10" stroke="#000" stroke-width="1.6"/>
<text x="454.40" y="874.20" font-size="13.9" fill="#000" stroke="#000" stroke-width="0.75">Diff.</text>
<text x="494.40" y="874.20" font-size="13.9" fill="#000" stroke="#000" stroke-width="0.75">JQ1</text>
<text x="464.40" y="896.00" font-size="13.9" text-anchor="middle" fill="#000" stroke="#000" stroke-width="0.6">-</text>
<text x="504.60" y="896.00" font-size="13.9" text-anchor="middle" fill="#000" stroke="#000" stroke-width="0.6">-</text>
<text x="466.00" y="922.90" font-size="13.9" text-anchor="middle" fill="#000" stroke="#000" stroke-width="0.6">+</text>
<text x="504.60" y="922.90" font-size="13.9" text-anchor="middle" fill="#000" stroke="#000" stroke-width="0.6">-</text>
<text x="466.00" y="951.50" font-size="13.9" text-anchor="middle" fill="#000" stroke="#000" stroke-width="0.6">+</text>
<text x="505.80" y="951.50" font-size="13.9" text-anchor="middle" fill="#000" stroke="#000" stroke-width="0.6">+</text>
</g>
</svg>
</body>
</html>
